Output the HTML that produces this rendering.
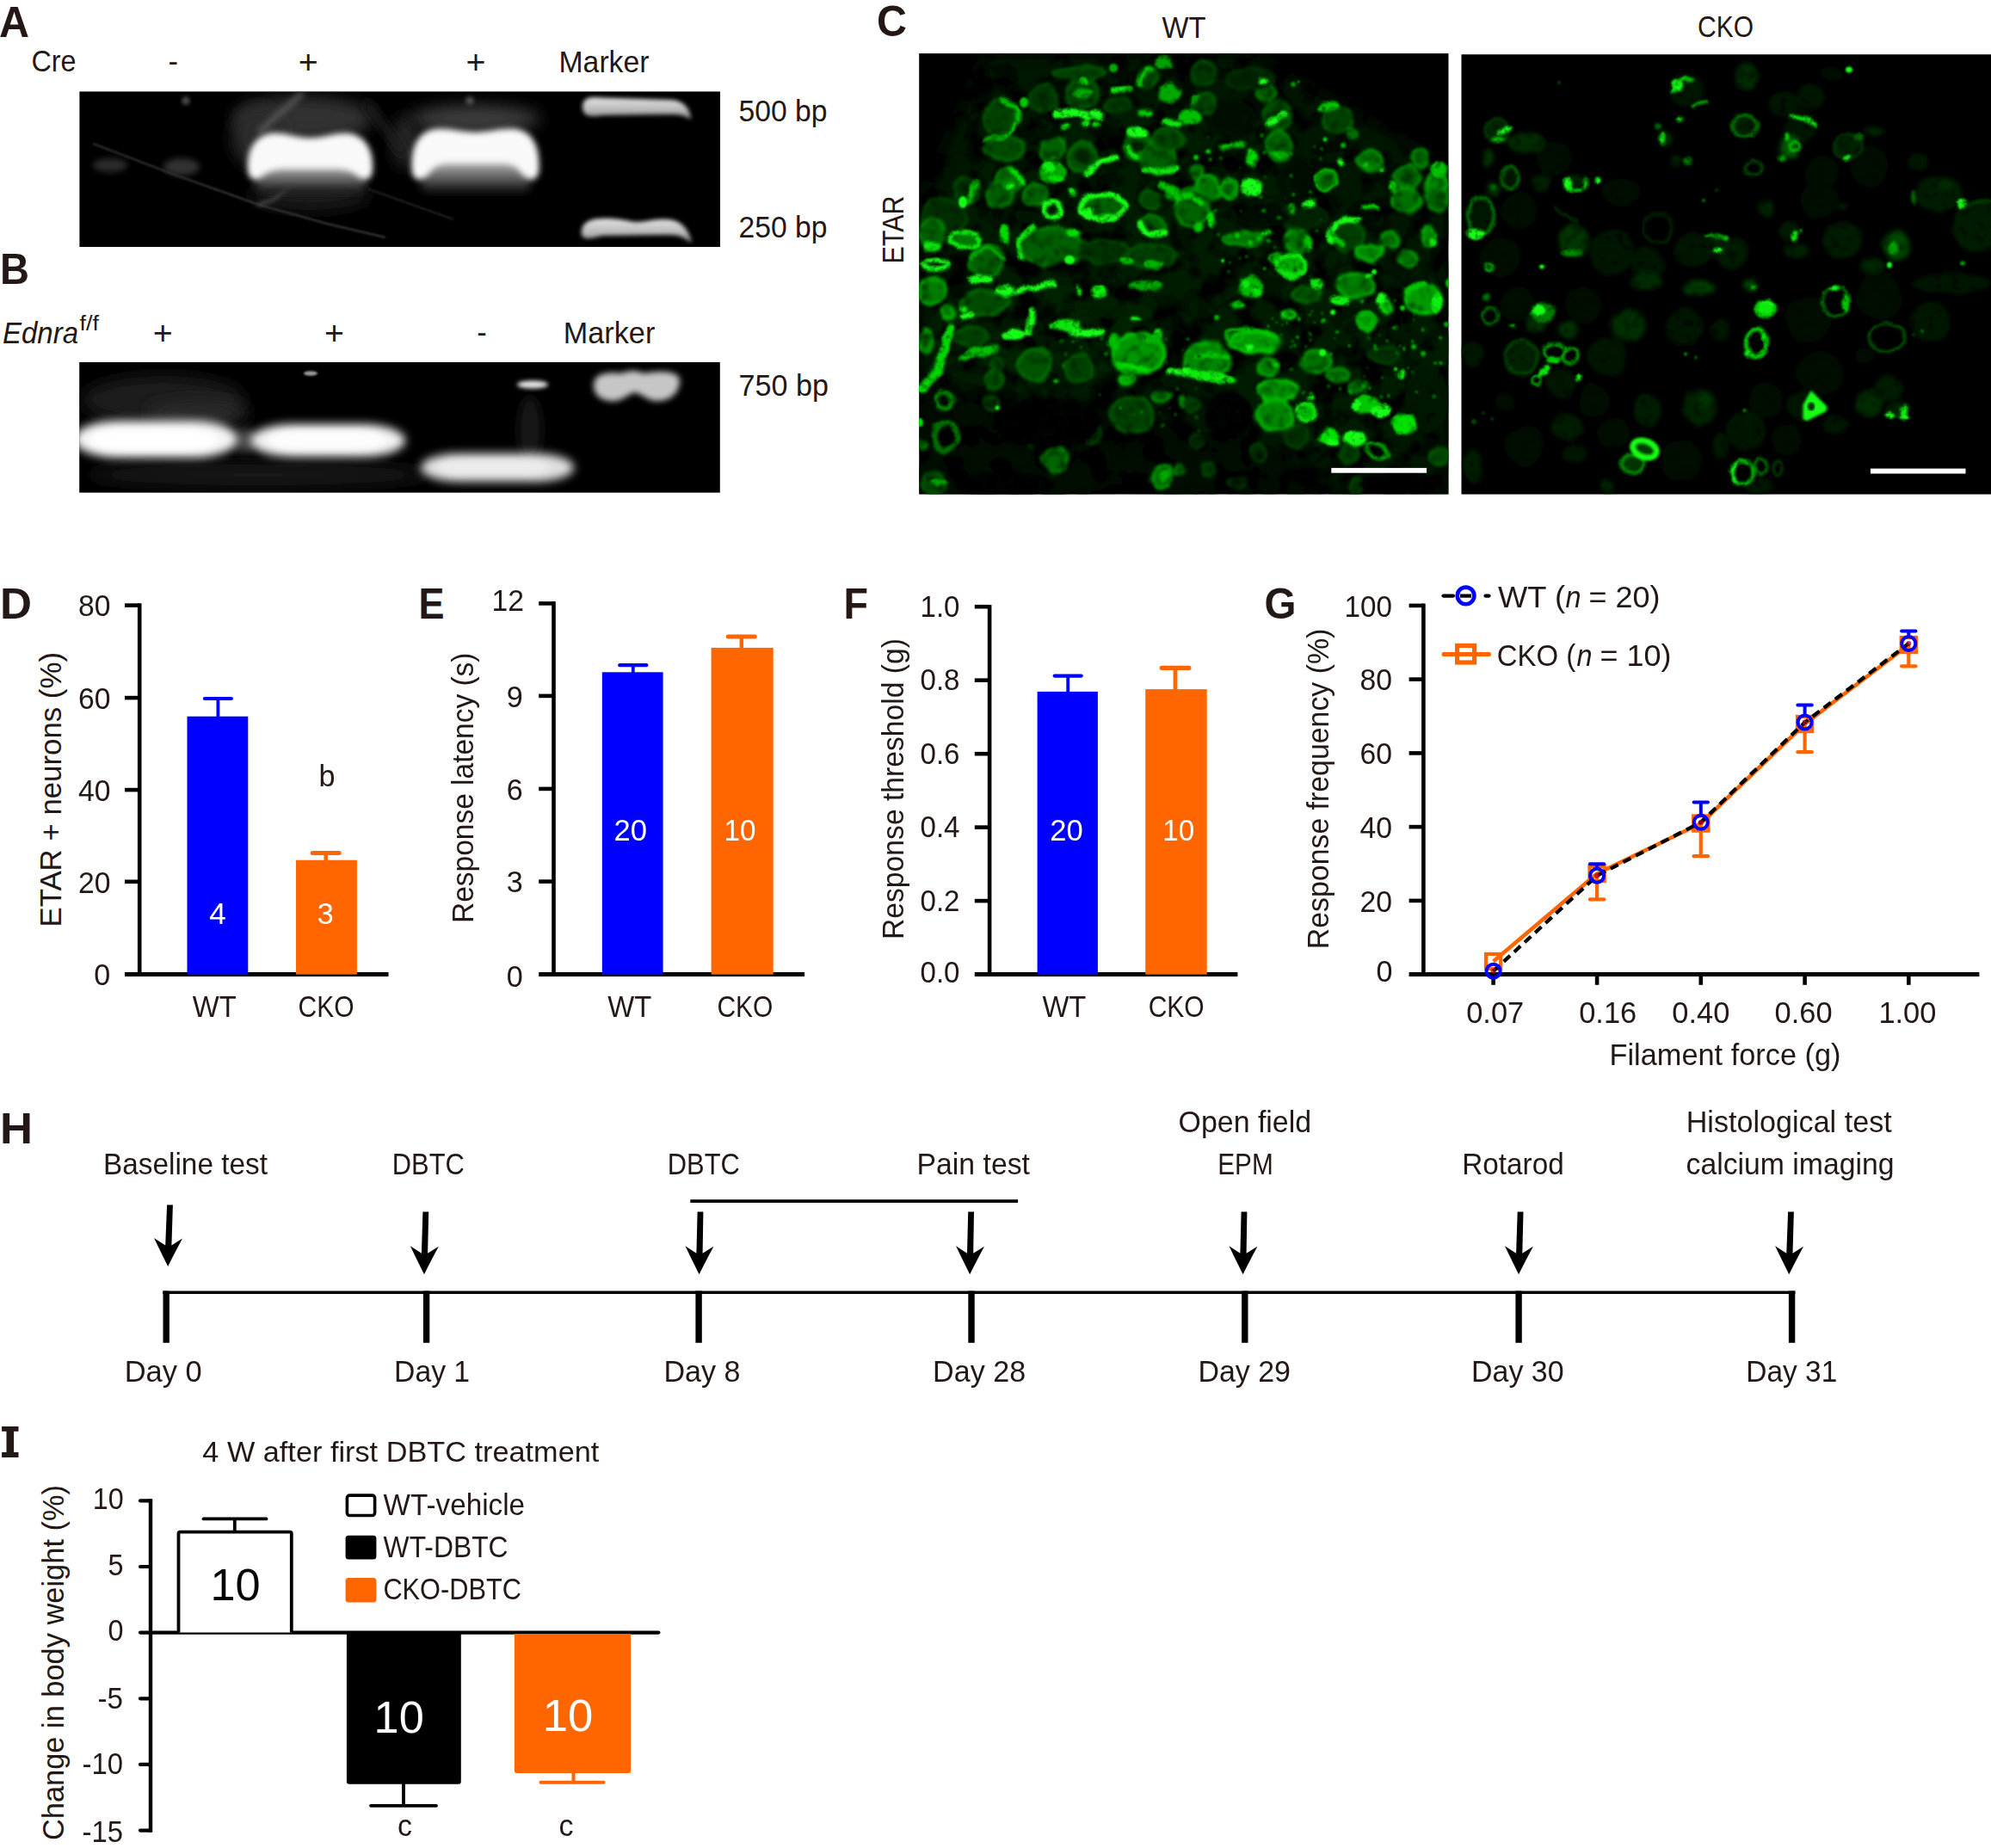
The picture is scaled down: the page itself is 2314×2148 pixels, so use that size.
<!DOCTYPE html>
<html><head><meta charset="utf-8"><title>Figure</title>
<style>
html,body{margin:0;padding:0;background:#fff;}
svg{display:block;}
text{font-family:"Liberation Sans",sans-serif;}
</style></head><body>
<svg width="2314" height="2148" viewBox="0 0 2314 2148">
<rect width="2314" height="2148" fill="#fff"/>
<g fill="#231815">
<text x="-1.0" y="42.5" font-size="50" textLength="35.0" lengthAdjust="spacingAndGlyphs" font-weight="bold">A</text>
<text x="0.0" y="330.0" font-size="50" textLength="34.0" lengthAdjust="spacingAndGlyphs" font-weight="bold">B</text>
<text x="1019.0" y="42.3" font-size="50" textLength="35.0" lengthAdjust="spacingAndGlyphs" font-weight="bold">C</text>
<text x="0.0" y="719.0" font-size="50" textLength="37.0" lengthAdjust="spacingAndGlyphs" font-weight="bold">D</text>
<text x="486.5" y="719.0" font-size="50" textLength="30.0" lengthAdjust="spacingAndGlyphs" font-weight="bold">E</text>
<text x="980.5" y="719.0" font-size="50" textLength="28.5" lengthAdjust="spacingAndGlyphs" font-weight="bold">F</text>
<text x="1469.5" y="719.0" font-size="50" textLength="37.0" lengthAdjust="spacingAndGlyphs" font-weight="bold">G</text>
<text x="0.0" y="1328.8" font-size="50" textLength="38.0" lengthAdjust="spacingAndGlyphs" font-weight="bold">H</text>
<path d="M2.1,1658 H21.5 V1663.8 H16.1 V1688.1 H21.5 V1693.9 H2.1 V1688.1 H7.5 V1663.8 H2.1 Z"/>
<text x="36.5" y="83.3" font-size="35" textLength="52.0" lengthAdjust="spacingAndGlyphs">Cre</text>
<text x="195.6" y="83.3" font-size="35" textLength="11.5" lengthAdjust="spacingAndGlyphs">-</text>
<text x="346.8" y="85.2" font-size="38" textLength="23.0" lengthAdjust="spacingAndGlyphs">+</text>
<text x="541.5" y="85.2" font-size="38" textLength="23.0" lengthAdjust="spacingAndGlyphs">+</text>
<text x="649.5" y="83.8" font-size="35" textLength="105.0" lengthAdjust="spacingAndGlyphs">Marker</text>
<text x="858.5" y="140.6" font-size="35" textLength="103.0" lengthAdjust="spacingAndGlyphs">500 bp</text>
<text x="858.5" y="276.2" font-size="35" textLength="103.0" lengthAdjust="spacingAndGlyphs">250 bp</text>
<text x="3.0" y="398.5" font-size="35" textLength="88.0" lengthAdjust="spacingAndGlyphs" font-style="italic">Ednra</text>
<text x="92.5" y="384.2" font-size="23" textLength="22.5" lengthAdjust="spacingAndGlyphs">f/f</text>
<text x="177.8" y="400.2" font-size="38" textLength="23.0" lengthAdjust="spacingAndGlyphs">+</text>
<text x="376.9" y="400.2" font-size="38" textLength="23.0" lengthAdjust="spacingAndGlyphs">+</text>
<text x="554.3" y="398.2" font-size="35" textLength="11.5" lengthAdjust="spacingAndGlyphs">-</text>
<text x="654.8" y="399.0" font-size="35" textLength="106.5" lengthAdjust="spacingAndGlyphs">Marker</text>
<text x="858.5" y="460.0" font-size="35" textLength="104.5" lengthAdjust="spacingAndGlyphs">750 bp</text>
<text x="1350.6" y="44.0" font-size="35" textLength="51.0" lengthAdjust="spacingAndGlyphs">WT</text>
<text x="1973.0" y="43.0" font-size="35" textLength="65.0" lengthAdjust="spacingAndGlyphs">CKO</text>
<text x="1050.0" y="306.5" font-size="35" textLength="79.0" lengthAdjust="spacingAndGlyphs" transform="rotate(-90 1050.0 306.5)">ETAR</text>
<defs>
<filter id="b1" x="-20%" y="-50%" width="140%" height="200%"><feGaussianBlur stdDeviation="1.2"/></filter>
<filter id="b2" x="-20%" y="-50%" width="140%" height="200%"><feGaussianBlur stdDeviation="2.4"/></filter>
<filter id="b3" x="-20%" y="-50%" width="140%" height="200%"><feGaussianBlur stdDeviation="3.6"/></filter>
<filter id="b5" x="-30%" y="-80%" width="160%" height="260%"><feGaussianBlur stdDeviation="5.5"/></filter>
<filter id="b8" x="-30%" y="-80%" width="160%" height="260%"><feGaussianBlur stdDeviation="9"/></filter>
<clipPath id="cgA"><rect x="92.4" y="106.4" width="744.6" height="180.6"/></clipPath>
<clipPath id="cgB"><rect x="92.2" y="421" width="744.6" height="151.6"/></clipPath>
<linearGradient id="bandA" x1="0" y1="0" x2="0" y2="1">
<stop offset="0" stop-color="#fafafa"/><stop offset="0.5" stop-color="#f8f8f8"/><stop offset="0.62" stop-color="#dcdcdc"/><stop offset="0.78" stop-color="#a8a8a8"/><stop offset="0.9" stop-color="#5a5a5a"/><stop offset="1" stop-color="#1a1a1a"/></linearGradient>
<linearGradient id="mk" x1="0" y1="0" x2="0" y2="1">
<stop offset="0" stop-color="#e4e4e4"/><stop offset="0.5" stop-color="#bdbdbd"/><stop offset="1" stop-color="#8c8c8c"/></linearGradient>
</defs>
<rect x="92.4" y="106.4" width="744.6" height="180.6" fill="#000"/>
<g clip-path="url(#cgA)">
<ellipse cx="352" cy="138" rx="82" ry="26" fill="#333" filter="url(#b8)"/><ellipse cx="300" cy="160" rx="30" ry="36" fill="#2a2a2a" filter="url(#b8)"/>
<ellipse cx="552" cy="138" rx="76" ry="16" fill="#3c3c3c" filter="url(#b8)"/><ellipse cx="470" cy="165" rx="14" ry="30" fill="#2a2a2a" filter="url(#b8)"/>
<ellipse cx="360" cy="226" rx="70" ry="18" fill="#1c1c1c" filter="url(#b8)"/>
<path d="M352,108 L300,154" stroke="#5a5a5a" stroke-width="6" fill="none" filter="url(#b3)"/>
<path d="M425,118 L470,180" stroke="#1a1a1a" stroke-width="10" fill="none" filter="url(#b5)"/>
<path d="M108,167 L200,202 L301,238 L380,260 L448,276" stroke="#333" stroke-width="2.4" fill="none" filter="url(#b1)"/>
<path d="M429,220 L527,255" stroke="#242424" stroke-width="2.2" fill="none" filter="url(#b1)"/>
<path d="M340,213 L318,232 L300,238" stroke="#5a5a5a" stroke-width="3" fill="none" filter="url(#b2)"/>
<ellipse cx="128" cy="192" rx="20" ry="8" fill="#2b2b2b" filter="url(#b3)"/>
<ellipse cx="211" cy="194" rx="21" ry="10" fill="#333" filter="url(#b3)"/>
<circle cx="216" cy="117" r="4.5" fill="#555" filter="url(#b2)"/>
<circle cx="546" cy="117" r="4.5" fill="#5a5a5a" filter="url(#b2)"/>
<linearGradient id="shadeA" x1="0" y1="0" x2="0" y2="1"><stop offset="0" stop-color="#d0d0d0"/><stop offset="0.35" stop-color="#9a9a9a"/><stop offset="0.7" stop-color="#4a4a4a"/><stop offset="1" stop-color="#0a0a0a"/></linearGradient>
<rect x="298" y="184" width="126" height="40" rx="8" fill="url(#shadeA)" filter="url(#b5)"/>
<rect x="490" y="178" width="126" height="46" rx="8" fill="url(#shadeA)" filter="url(#b5)"/>
<path d="M314.0,155.0 C331.5,153.0 343.1,160.0 360.5,160.0 C377.9,160.0 389.5,153.0 407.0,155.0 C427.0,159.0 434.0,177.0 433.0,196.0 C433.0,211.0 421.0,212.0 413.0,202.0 C407.0,198.0 399.0,196.0 389.0,196.0 L332.0,196.0 C322.0,196.0 314.0,198.0 308.0,202.0 C300.0,212.0 288.0,211.0 288.0,196.0 C287.0,177.0 294.0,159.0 314.0,155.0 Z" fill="#f9f9f9" filter="url(#b3)"/>
<path d="M504.5,150.0 C522.9,148.0 534.7,153.5 552.5,153.5 C570.3,153.5 582.1,148.0 600.5,150.0 C620.5,154.0 627.5,172.0 626.5,196.0 C626.5,211.0 614.5,212.0 606.5,202.0 C600.5,192.0 592.5,190.0 582.5,190.0 L522.5,190.0 C512.5,190.0 504.5,192.0 498.5,202.0 C490.5,212.0 478.5,211.0 478.5,196.0 C477.5,172.0 484.5,154.0 504.5,150.0 Z" fill="#f9f9f9" filter="url(#b3)"/>
<path d="M677,124 C677,112 690,112.5 700,113.5 L780,116 C796,117 803,128 803,139 C796,134 790,133 780,133 L700,134 C686,136 677,136 677,124 Z" fill="url(#mk)" filter="url(#b2)"/>
<path d="M676,274 C674,260 684,254 700,254 C720,253 730,258 740,258 C752,258 760,254 776,255 C794,256 802,270 804,283 C796,276 790,273 776,273 L700,274 C690,276 682,280 676,274 Z" fill="url(#mk)" filter="url(#b2)"/>
</g>
<rect x="92.2" y="421.0" width="744.6" height="151.6" fill="#000"/>
<g clip-path="url(#cgB)">
<ellipse cx="190" cy="465" rx="95" ry="28" fill="#1e1e1e" filter="url(#b8)"/>
<ellipse cx="230" cy="480" rx="60" ry="14" fill="#2a2a2a" filter="url(#b8)"/>
<ellipse cx="300" cy="552" rx="200" ry="12" fill="#1d1d1d" filter="url(#b8)"/>
<ellipse cx="285" cy="512" rx="14" ry="14" fill="#444" filter="url(#b5)"/>
<ellipse cx="616" cy="500" rx="14" ry="40" fill="#161616" filter="url(#b5)"/>
<rect x="86" y="489" width="190" height="43" rx="52" ry="21" fill="#f4f4f4" filter="url(#b5)"/>
<rect x="104" y="499" width="150" height="24" rx="40" ry="12" fill="#fff" filter="url(#b3)"/>
<rect x="291" y="493" width="180" height="38" rx="50" ry="19" fill="#f2f2f2" filter="url(#b5)"/>
<rect x="312" y="501" width="136" height="21" rx="36" ry="10" fill="#fdfdfd" filter="url(#b3)"/>
<rect x="489" y="527" width="178" height="33" rx="46" ry="16" fill="#e0e0e0" filter="url(#b5)"/>
<rect x="508" y="535" width="130" height="16" rx="34" ry="8" fill="#ececec" filter="url(#b3)"/>
<path d="M690,448 C690,434 706,432 722,434 C732,430 740,430 748,434 C764,431 790,430 790,442 C790,456 780,466 764,466 C752,466 746,458 738,456 C730,458 722,468 708,466 C696,464 690,458 690,448 Z" fill="#c6c6c6" filter="url(#b3)"/>
<ellipse cx="619" cy="447" rx="18" ry="4.5" fill="#e8e8e8" filter="url(#b2)"/>
<ellipse cx="361" cy="434" rx="8" ry="2.8" fill="#9a9a9a" filter="url(#b1)"/>
</g>
<defs>
<filter id="g1" x="-5%" y="-5%" width="110%" height="110%"><feGaussianBlur stdDeviation="0.9"/></filter>
<filter id="g2" x="-5%" y="-5%" width="110%" height="110%"><feGaussianBlur stdDeviation="1.7"/></filter>
<filter id="g3" x="-5%" y="-5%" width="110%" height="110%"><feGaussianBlur stdDeviation="2.8"/></filter>
<filter id="g12" x="-10%" y="-10%" width="120%" height="120%"><feGaussianBlur stdDeviation="13"/></filter>
<filter id="wbase" x="0" y="0" width="100%" height="100%" filterUnits="objectBoundingBox">
 <feGaussianBlur in="SourceGraphic" stdDeviation="11" result="b"/>
 <feTurbulence type="fractalNoise" baseFrequency="0.035" numOctaves="3" seed="11" result="n"/>
 <feColorMatrix in="n" type="matrix" values="0 0 0 0 0  0 0 0 0 0  0 0 0 0 0  0 3.4 0 0 -1.05" result="a"/>
 <feComposite in="b" in2="a" operator="in"/>
</filter>
<filter id="wdim" x="-3%" y="-3%" width="106%" height="106%">
 <feGaussianBlur in="SourceGraphic" stdDeviation="1.6" result="b"/>
 <feTurbulence type="fractalNoise" baseFrequency="0.045" numOctaves="2" seed="3" result="n"/>
 <feDisplacementMap in="b" in2="n" scale="9" xChannelSelector="R" yChannelSelector="G" result="d"/>
 <feTurbulence type="fractalNoise" baseFrequency="0.08" numOctaves="2" seed="8" result="n2"/>
 <feColorMatrix in="n2" type="matrix" values="0 0 0 0 0  0 0 0 0 0  0 0 0 0 0  0 0 -1.5 0 1.7" result="a"/>
 <feComposite in="d" in2="a" operator="in" result="c"/>
 <feGaussianBlur in="c" stdDeviation="0.8"/>
</filter>
<filter id="wbri" x="-3%" y="-3%" width="106%" height="106%">
 <feGaussianBlur in="SourceGraphic" stdDeviation="1.6" result="b"/>
 <feTurbulence type="fractalNoise" baseFrequency="0.055" numOctaves="2" seed="5" result="n"/>
 <feDisplacementMap in="b" in2="n" scale="8" xChannelSelector="R" yChannelSelector="G" result="d"/>
 <feTurbulence type="fractalNoise" baseFrequency="0.13" numOctaves="2" seed="21" result="n2"/>
 <feColorMatrix in="n2" type="matrix" values="0 0 0 0 0  0 0 0 0 0  0 0 0 0 0  -1.5 0 0 0 1.75" result="a"/>
 <feComposite in="d" in2="a" operator="in" result="c"/>
 <feGaussianBlur in="c" stdDeviation="0.7"/>
</filter>
<filter id="cdimf" x="-3%" y="-3%" width="106%" height="106%">
 <feGaussianBlur in="SourceGraphic" stdDeviation="2.6" result="b"/>
 <feTurbulence type="fractalNoise" baseFrequency="0.035" numOctaves="2" seed="13" result="n"/>
 <feDisplacementMap in="b" in2="n" scale="9" xChannelSelector="R" yChannelSelector="G" result="d"/>
 <feTurbulence type="fractalNoise" baseFrequency="0.1" numOctaves="2" seed="2" result="n2"/>
 <feColorMatrix in="n2" type="matrix" values="0 0 0 0 0  0 0 0 0 0  0 0 0 0 0  0 -1.2 0 0 1.55" result="a"/>
 <feComposite in="d" in2="a" operator="in" result="c"/>
 <feGaussianBlur in="c" stdDeviation="0.8"/>
</filter>
<filter id="cbrif" x="-3%" y="-3%" width="106%" height="106%">
 <feGaussianBlur in="SourceGraphic" stdDeviation="1.4" result="b"/>
 <feTurbulence type="fractalNoise" baseFrequency="0.08" numOctaves="2" seed="7" result="n"/>
 <feDisplacementMap in="b" in2="n" scale="5" xChannelSelector="R" yChannelSelector="G" result="d"/>
 <feTurbulence type="fractalNoise" baseFrequency="0.18" numOctaves="2" seed="9" result="n2"/>
 <feColorMatrix in="n2" type="matrix" values="0 0 0 0 0  0 0 0 0 0  0 0 0 0 0  -1.3 0 0 0 1.65" result="a"/>
 <feComposite in="d" in2="a" operator="in" result="c"/>
 <feGaussianBlur in="c" stdDeviation="0.6"/>
</filter>
<clipPath id="cWT"><rect x="0" y="0" width="615.6" height="512.6"/></clipPath>
<clipPath id="cCK"><rect x="0.5" y="1.2" width="615.5" height="511.5"/></clipPath>
</defs>
<g transform="translate(1068.1,62.1)"><g clip-path="url(#cWT)">
<rect x="0" y="0" width="615.6" height="512.6" fill="#000"/>
<g filter="url(#wbase)"><path d="M78,0 L388,0 L616,132 L616,513 L330,513 L300,440 L200,420 L60,400 L0,420 L0,175 Z" fill="rgb(0,22,0)"/><ellipse cx="250.0" cy="200.0" rx="200.0" ry="140.0" fill="rgb(0,30,0)"/><ellipse cx="480.0" cy="330.0" rx="150.0" ry="130.0" fill="rgb(0,28,0)"/><ellipse cx="150.0" cy="330.0" rx="140.0" ry="60.0" fill="rgb(0,34,0)"/><ellipse cx="110.0" cy="470.0" rx="130.0" ry="60.0" fill="rgb(0,10,0)"/><ellipse cx="330.0" cy="480.0" rx="110.0" ry="40.0" fill="rgb(0,8,0)"/></g>
<g filter="url(#wdim)"><ellipse cx="93.0" cy="74.0" rx="20.0" ry="20.0" fill="rgb(0,65,0)"/><ellipse cx="93.0" cy="74.0" rx="18.8" ry="18.8" fill="none" stroke="rgb(0,91,0)" stroke-width="3.5"/><ellipse cx="144.0" cy="53.0" rx="17.0" ry="16.0" fill="rgb(0,54,0)"/><ellipse cx="144.0" cy="53.0" rx="15.8" ry="14.8" fill="none" stroke="rgb(0,75,0)" stroke-width="3.5"/><ellipse cx="190.0" cy="46.0" rx="20.0" ry="18.0" fill="rgb(0,65,0)"/><ellipse cx="190.0" cy="46.0" rx="18.8" ry="16.8" fill="none" stroke="rgb(0,91,0)" stroke-width="3.5"/><ellipse cx="186.0" cy="23.0" rx="32.0" ry="9.0" fill="rgb(0,62,0)"/><ellipse cx="186.0" cy="23.0" rx="30.8" ry="7.8" fill="none" stroke="rgb(0,87,0)" stroke-width="3.5"/><ellipse cx="254.0" cy="108.0" rx="17.0" ry="16.0" fill="rgb(0,84,0)"/><ellipse cx="254.0" cy="108.0" rx="15.8" ry="14.8" fill="none" stroke="rgb(0,118,0)" stroke-width="3.5"/><ellipse cx="278.0" cy="122.0" rx="22.0" ry="19.0" fill="rgb(0,95,0)"/><ellipse cx="278.0" cy="122.0" rx="20.8" ry="17.8" fill="none" stroke="rgb(0,134,0)" stroke-width="3.5"/><ellipse cx="190.0" cy="122.0" rx="19.0" ry="18.0" fill="rgb(0,79,0)"/><ellipse cx="190.0" cy="122.0" rx="17.8" ry="16.8" fill="none" stroke="rgb(0,110,0)" stroke-width="3.5"/><ellipse cx="155.0" cy="111.0" rx="14.0" ry="13.0" fill="rgb(0,95,0)"/><ellipse cx="155.0" cy="111.0" rx="12.8" ry="11.8" fill="none" stroke="rgb(0,134,0)" stroke-width="3.5"/><ellipse cx="105.0" cy="147.0" rx="15.0" ry="15.0" fill="rgb(0,90,0)"/><ellipse cx="105.0" cy="147.0" rx="13.8" ry="13.8" fill="none" stroke="rgb(0,126,0)" stroke-width="3.5"/><ellipse cx="99.0" cy="111.0" rx="24.0" ry="16.0" fill="rgb(0,76,0)"/><ellipse cx="99.0" cy="111.0" rx="22.8" ry="14.8" fill="none" stroke="rgb(0,107,0)" stroke-width="3.5"/><ellipse cx="93.0" cy="164.0" rx="17.0" ry="16.0" fill="rgb(0,90,0)"/><ellipse cx="93.0" cy="164.0" rx="15.8" ry="14.8" fill="none" stroke="rgb(0,126,0)" stroke-width="3.5"/><ellipse cx="55.0" cy="160.0" rx="16.0" ry="15.0" fill="rgb(0,50,0)"/><ellipse cx="55.0" cy="160.0" rx="14.8" ry="13.8" fill="none" stroke="rgb(0,71,0)" stroke-width="3.5"/><ellipse cx="135.0" cy="164.0" rx="14.0" ry="13.0" fill="rgb(0,95,0)"/><ellipse cx="135.0" cy="164.0" rx="12.8" ry="11.8" fill="none" stroke="rgb(0,134,0)" stroke-width="3.5"/><ellipse cx="269.0" cy="170.0" rx="14.0" ry="13.0" fill="rgb(0,67,0)"/><ellipse cx="269.0" cy="170.0" rx="12.8" ry="11.8" fill="none" stroke="rgb(0,94,0)" stroke-width="3.5"/><ellipse cx="28.0" cy="193.0" rx="26.0" ry="24.0" fill="rgb(0,47,0)"/><ellipse cx="28.0" cy="193.0" rx="24.8" ry="22.8" fill="none" stroke="rgb(0,66,0)" stroke-width="3.5"/><ellipse cx="15.0" cy="210.0" rx="15.0" ry="18.0" fill="rgb(0,93,0)"/><ellipse cx="15.0" cy="210.0" rx="13.8" ry="16.8" fill="none" stroke="rgb(0,131,0)" stroke-width="3.5"/><ellipse cx="155.0" cy="224.0" rx="40.0" ry="23.0" fill="rgb(0,95,0)"/><ellipse cx="155.0" cy="224.0" rx="38.8" ry="21.8" fill="none" stroke="rgb(0,134,0)" stroke-width="3.5"/><ellipse cx="79.0" cy="241.0" rx="21.0" ry="19.0" fill="rgb(0,93,0)"/><ellipse cx="79.0" cy="241.0" rx="19.8" ry="17.8" fill="none" stroke="rgb(0,131,0)" stroke-width="3.5"/><ellipse cx="213.0" cy="178.0" rx="26.0" ry="14.0" fill="rgb(0,100,0)"/><ellipse cx="213.0" cy="178.0" rx="24.8" ry="12.8" fill="none" stroke="rgb(0,140,0)" stroke-width="3.5"/><ellipse cx="272.0" cy="200.0" rx="16.0" ry="12.0" fill="rgb(0,90,0)"/><ellipse cx="272.0" cy="200.0" rx="14.8" ry="10.8" fill="none" stroke="rgb(0,126,0)" stroke-width="3.5"/><ellipse cx="266.0" cy="28.0" rx="14.0" ry="13.0" fill="rgb(0,67,0)"/><ellipse cx="266.0" cy="28.0" rx="12.8" ry="11.8" fill="none" stroke="rgb(0,94,0)" stroke-width="3.5"/><ellipse cx="230.0" cy="60.0" rx="16.0" ry="10.0" fill="rgb(0,50,0)"/><ellipse cx="230.0" cy="60.0" rx="14.8" ry="8.8" fill="none" stroke="rgb(0,71,0)" stroke-width="3.5"/><ellipse cx="290.0" cy="100.0" rx="20.0" ry="14.0" fill="rgb(0,67,0)"/><ellipse cx="290.0" cy="100.0" rx="18.8" ry="12.8" fill="none" stroke="rgb(0,94,0)" stroke-width="3.5"/><ellipse cx="215.0" cy="230.0" rx="30.0" ry="14.0" fill="rgb(0,50,0)"/><ellipse cx="215.0" cy="230.0" rx="28.8" ry="12.8" fill="none" stroke="rgb(0,71,0)" stroke-width="3.5"/><ellipse cx="270.0" cy="235.0" rx="30.0" ry="14.0" fill="rgb(0,62,0)"/><ellipse cx="270.0" cy="235.0" rx="28.8" ry="12.8" fill="none" stroke="rgb(0,87,0)" stroke-width="3.5"/><ellipse cx="254.0" cy="108.0" rx="9.0" ry="8.0" fill="rgb(0,35,0)"/><ellipse cx="190.0" cy="120.0" rx="10.0" ry="9.0" fill="rgb(0,40,0)"/><ellipse cx="170.0" cy="248.0" rx="22.0" ry="5.0" fill="rgb(0,5,0)"/><ellipse cx="140.0" cy="95.0" rx="22.0" ry="8.0" fill="rgb(0,8,0)"/><ellipse cx="225.0" cy="148.0" rx="16.0" ry="6.0" fill="rgb(0,10,0)"/><ellipse cx="125.0" cy="190.0" rx="14.0" ry="7.0" fill="rgb(0,25,0)"/><ellipse cx="331.0" cy="23.0" rx="14.0" ry="13.0" fill="rgb(0,54,0)"/><ellipse cx="331.0" cy="23.0" rx="12.8" ry="11.8" fill="none" stroke="rgb(0,75,0)" stroke-width="3.5"/><ellipse cx="331.0" cy="59.0" rx="15.0" ry="14.0" fill="rgb(0,65,0)"/><ellipse cx="331.0" cy="59.0" rx="13.8" ry="12.8" fill="none" stroke="rgb(0,91,0)" stroke-width="3.5"/><ellipse cx="404.0" cy="45.0" rx="11.0" ry="11.0" fill="rgb(0,88,0)"/><ellipse cx="404.0" cy="45.0" rx="9.8" ry="9.8" fill="none" stroke="rgb(0,123,0)" stroke-width="3.5"/><ellipse cx="416.0" cy="73.0" rx="18.0" ry="17.0" fill="rgb(0,65,0)"/><ellipse cx="416.0" cy="73.0" rx="16.8" ry="15.8" fill="none" stroke="rgb(0,91,0)" stroke-width="3.5"/><ellipse cx="486.0" cy="77.0" rx="18.0" ry="16.0" fill="rgb(0,65,0)"/><ellipse cx="486.0" cy="77.0" rx="16.8" ry="14.8" fill="none" stroke="rgb(0,91,0)" stroke-width="3.5"/><ellipse cx="419.0" cy="107.0" rx="16.0" ry="18.0" fill="rgb(0,95,0)"/><ellipse cx="419.0" cy="107.0" rx="14.8" ry="16.8" fill="none" stroke="rgb(0,134,0)" stroke-width="3.5"/><ellipse cx="323.0" cy="138.0" rx="9.0" ry="9.0" fill="rgb(0,100,0)"/><ellipse cx="323.0" cy="138.0" rx="7.8" ry="7.8" fill="none" stroke="rgb(0,140,0)" stroke-width="3.5"/><ellipse cx="336.0" cy="156.0" rx="15.0" ry="14.0" fill="rgb(0,120,0)"/><ellipse cx="336.0" cy="156.0" rx="13.8" ry="12.8" fill="none" stroke="rgb(0,169,0)" stroke-width="3.5"/><ellipse cx="360.0" cy="158.0" rx="11.0" ry="11.0" fill="rgb(0,105,0)"/><ellipse cx="360.0" cy="158.0" rx="9.8" ry="9.8" fill="none" stroke="rgb(0,147,0)" stroke-width="3.5"/><ellipse cx="317.0" cy="179.0" rx="20.0" ry="24.0" fill="rgb(0,100,0)"/><ellipse cx="317.0" cy="179.0" rx="18.8" ry="22.8" fill="none" stroke="rgb(0,140,0)" stroke-width="3.5"/><ellipse cx="473.0" cy="148.0" rx="11.5" ry="11.5" fill="rgb(0,100,0)"/><ellipse cx="473.0" cy="148.0" rx="10.3" ry="10.3" fill="none" stroke="rgb(0,140,0)" stroke-width="3.5"/><ellipse cx="524.0" cy="124.0" rx="15.0" ry="12.0" fill="rgb(0,110,0)"/><ellipse cx="524.0" cy="124.0" rx="13.8" ry="10.8" fill="none" stroke="rgb(0,154,0)" stroke-width="3.5"/><ellipse cx="583.0" cy="121.0" rx="11.0" ry="11.0" fill="rgb(0,100,0)"/><ellipse cx="583.0" cy="121.0" rx="9.8" ry="9.8" fill="none" stroke="rgb(0,140,0)" stroke-width="3.5"/><ellipse cx="602.0" cy="152.0" rx="14.0" ry="14.0" fill="rgb(0,131,0)"/><ellipse cx="602.0" cy="152.0" rx="12.8" ry="12.8" fill="none" stroke="rgb(0,183,0)" stroke-width="3.5"/><ellipse cx="568.0" cy="144.0" rx="15.0" ry="14.0" fill="rgb(0,95,0)"/><ellipse cx="568.0" cy="144.0" rx="13.8" ry="12.8" fill="none" stroke="rgb(0,134,0)" stroke-width="3.5"/><ellipse cx="566.0" cy="170.0" rx="17.0" ry="16.0" fill="rgb(0,113,0)"/><ellipse cx="566.0" cy="170.0" rx="15.8" ry="14.8" fill="none" stroke="rgb(0,158,0)" stroke-width="3.5"/><ellipse cx="602.0" cy="170.0" rx="15.0" ry="14.0" fill="rgb(0,95,0)"/><ellipse cx="602.0" cy="170.0" rx="13.8" ry="12.8" fill="none" stroke="rgb(0,134,0)" stroke-width="3.5"/><ellipse cx="439.0" cy="217.0" rx="15.0" ry="15.0" fill="rgb(0,120,0)"/><ellipse cx="439.0" cy="217.0" rx="13.8" ry="13.8" fill="none" stroke="rgb(0,169,0)" stroke-width="3.5"/><ellipse cx="524.0" cy="232.0" rx="16.0" ry="11.0" fill="rgb(0,134,0)"/><ellipse cx="524.0" cy="232.0" rx="14.8" ry="9.8" fill="none" stroke="rgb(0,188,0)" stroke-width="3.5"/><ellipse cx="548.0" cy="217.0" rx="12.0" ry="11.0" fill="rgb(0,113,0)"/><ellipse cx="548.0" cy="217.0" rx="10.8" ry="9.8" fill="none" stroke="rgb(0,158,0)" stroke-width="3.5"/><ellipse cx="592.0" cy="213.0" rx="10.0" ry="13.0" fill="rgb(0,131,0)"/><ellipse cx="592.0" cy="213.0" rx="8.8" ry="11.8" fill="none" stroke="rgb(0,183,0)" stroke-width="3.5"/><ellipse cx="568.0" cy="238.0" rx="12.0" ry="11.0" fill="rgb(0,113,0)"/><ellipse cx="568.0" cy="238.0" rx="10.8" ry="9.8" fill="none" stroke="rgb(0,158,0)" stroke-width="3.5"/><ellipse cx="497.0" cy="212.0" rx="22.0" ry="18.0" fill="rgb(0,62,0)"/><ellipse cx="497.0" cy="212.0" rx="20.8" ry="16.8" fill="none" stroke="rgb(0,87,0)" stroke-width="3.5"/><ellipse cx="385.0" cy="30.0" rx="30.0" ry="12.0" fill="rgb(0,36,0)"/><ellipse cx="385.0" cy="30.0" rx="28.8" ry="10.8" fill="none" stroke="rgb(0,50,0)" stroke-width="3.5"/><ellipse cx="377.0" cy="216.0" rx="24.0" ry="9.0" fill="rgb(0,115,0)"/><ellipse cx="377.0" cy="216.0" rx="22.8" ry="7.8" fill="none" stroke="rgb(0,161,0)" stroke-width="3.5"/><ellipse cx="445.0" cy="190.0" rx="30.0" ry="14.0" fill="rgb(0,33,0)"/><ellipse cx="445.0" cy="190.0" rx="28.8" ry="12.8" fill="none" stroke="rgb(0,47,0)" stroke-width="3.5"/><ellipse cx="440.0" cy="150.0" rx="22.0" ry="30.0" fill="rgb(0,8,0)"/><ellipse cx="365.0" cy="75.0" rx="25.0" ry="20.0" fill="rgb(0,10,0)"/><ellipse cx="400.0" cy="190.0" rx="30.0" ry="12.0" fill="rgb(0,12,0)"/><ellipse cx="15.0" cy="276.0" rx="17.0" ry="16.0" fill="rgb(0,123,0)"/><ellipse cx="15.0" cy="276.0" rx="15.8" ry="14.8" fill="none" stroke="rgb(0,173,0)" stroke-width="3.5"/><ellipse cx="77.0" cy="290.0" rx="30.0" ry="14.0" fill="rgb(0,76,0)"/><ellipse cx="77.0" cy="290.0" rx="28.8" ry="12.8" fill="none" stroke="rgb(0,107,0)" stroke-width="3.5"/><ellipse cx="34.0" cy="302.0" rx="9.0" ry="8.0" fill="rgb(0,131,0)"/><ellipse cx="34.0" cy="302.0" rx="7.8" ry="6.8" fill="none" stroke="rgb(0,183,0)" stroke-width="3.5"/><ellipse cx="8.0" cy="333.0" rx="8.0" ry="16.0" fill="rgb(0,113,0)"/><ellipse cx="8.0" cy="333.0" rx="6.8" ry="14.8" fill="none" stroke="rgb(0,158,0)" stroke-width="3.5"/><ellipse cx="135.0" cy="362.0" rx="20.0" ry="19.0" fill="rgb(0,83,0)"/><ellipse cx="135.0" cy="362.0" rx="18.8" ry="17.8" fill="none" stroke="rgb(0,117,0)" stroke-width="3.5"/><ellipse cx="186.0" cy="367.0" rx="18.0" ry="17.0" fill="rgb(0,65,0)"/><ellipse cx="186.0" cy="367.0" rx="16.8" ry="15.8" fill="none" stroke="rgb(0,91,0)" stroke-width="3.5"/><ellipse cx="91.0" cy="361.0" rx="8.0" ry="8.0" fill="rgb(0,62,0)"/><ellipse cx="91.0" cy="361.0" rx="6.8" ry="6.8" fill="none" stroke="rgb(0,87,0)" stroke-width="3.5"/><ellipse cx="87.0" cy="380.0" rx="11.0" ry="11.0" fill="rgb(0,67,0)"/><ellipse cx="87.0" cy="380.0" rx="9.8" ry="9.8" fill="none" stroke="rgb(0,94,0)" stroke-width="3.5"/><ellipse cx="84.0" cy="406.0" rx="9.0" ry="9.0" fill="rgb(0,54,0)"/><ellipse cx="84.0" cy="406.0" rx="7.8" ry="7.8" fill="none" stroke="rgb(0,75,0)" stroke-width="3.5"/><ellipse cx="248.0" cy="420.0" rx="27.0" ry="21.0" fill="rgb(0,65,0)"/><ellipse cx="248.0" cy="420.0" rx="25.8" ry="19.8" fill="none" stroke="rgb(0,91,0)" stroke-width="3.5"/><ellipse cx="282.0" cy="398.0" rx="11.0" ry="7.0" fill="rgb(0,100,0)"/><ellipse cx="282.0" cy="398.0" rx="9.8" ry="5.8" fill="none" stroke="rgb(0,140,0)" stroke-width="3.5"/><ellipse cx="131.0" cy="446.0" rx="11.0" ry="13.0" fill="rgb(0,58,0)"/><ellipse cx="131.0" cy="446.0" rx="9.8" ry="11.8" fill="none" stroke="rgb(0,82,0)" stroke-width="3.5"/><ellipse cx="158.0" cy="472.0" rx="16.0" ry="16.0" fill="rgb(0,98,0)"/><ellipse cx="158.0" cy="472.0" rx="14.8" ry="14.8" fill="none" stroke="rgb(0,137,0)" stroke-width="3.5"/><ellipse cx="201.0" cy="441.0" rx="12.0" ry="12.0" fill="rgb(0,42,0)"/><ellipse cx="201.0" cy="441.0" rx="10.8" ry="10.8" fill="none" stroke="rgb(0,60,0)" stroke-width="3.5"/><ellipse cx="283.0" cy="491.0" rx="13.0" ry="14.0" fill="rgb(0,110,0)"/><ellipse cx="283.0" cy="491.0" rx="11.8" ry="12.8" fill="none" stroke="rgb(0,154,0)" stroke-width="3.5"/><ellipse cx="17.0" cy="500.0" rx="15.0" ry="14.0" fill="rgb(0,65,0)"/><ellipse cx="17.0" cy="500.0" rx="13.8" ry="12.8" fill="none" stroke="rgb(0,91,0)" stroke-width="3.5"/><ellipse cx="255.0" cy="349.0" rx="31.0" ry="25.0" fill="rgb(0,152,0)"/><ellipse cx="255.0" cy="349.0" rx="29.8" ry="23.8" fill="none" stroke="rgb(0,213,0)" stroke-width="3.5"/><ellipse cx="241.0" cy="380.0" rx="9.0" ry="6.0" fill="rgb(0,152,0)"/><ellipse cx="241.0" cy="380.0" rx="7.8" ry="4.8" fill="none" stroke="rgb(0,213,0)" stroke-width="3.5"/><ellipse cx="306.0" cy="406.0" rx="4.0" ry="8.0" fill="rgb(0,110,0)"/><ellipse cx="306.0" cy="406.0" rx="2.8" ry="6.8" fill="none" stroke="rgb(0,154,0)" stroke-width="3.5"/><ellipse cx="303.0" cy="485.0" rx="6.0" ry="6.0" fill="rgb(0,88,0)"/><ellipse cx="303.0" cy="485.0" rx="4.8" ry="4.8" fill="none" stroke="rgb(0,123,0)" stroke-width="3.5"/><ellipse cx="5.0" cy="455.0" rx="5.0" ry="5.0" fill="rgb(0,100,0)"/><ellipse cx="5.0" cy="455.0" rx="3.8" ry="3.8" fill="none" stroke="rgb(0,140,0)" stroke-width="3.5"/><ellipse cx="60.0" cy="330.0" rx="20.0" ry="12.0" fill="rgb(0,62,0)"/><ellipse cx="60.0" cy="330.0" rx="18.8" ry="10.8" fill="none" stroke="rgb(0,87,0)" stroke-width="3.5"/><ellipse cx="170.0" cy="340.0" rx="20.0" ry="8.0" fill="rgb(0,22,0)"/><ellipse cx="215.0" cy="300.0" rx="25.0" ry="10.0" fill="rgb(0,28,0)"/><ellipse cx="150.0" cy="430.0" rx="60.0" ry="30.0" fill="rgb(0,6,0)"/><ellipse cx="100.0" cy="500.0" rx="60.0" ry="14.0" fill="rgb(0,6,0)"/><ellipse cx="60.0" cy="420.0" rx="20.0" ry="14.0" fill="rgb(0,8,0)"/><ellipse cx="506.0" cy="270.0" rx="23.0" ry="15.0" fill="rgb(0,123,0)"/><ellipse cx="506.0" cy="270.0" rx="21.8" ry="13.8" fill="none" stroke="rgb(0,173,0)" stroke-width="3.5"/><ellipse cx="586.0" cy="285.0" rx="22.0" ry="18.0" fill="rgb(0,155,0)"/><ellipse cx="586.0" cy="285.0" rx="20.8" ry="16.8" fill="none" stroke="rgb(1,217,1)" stroke-width="3.5"/><ellipse cx="520.0" cy="311.0" rx="11.0" ry="11.0" fill="rgb(0,155,0)"/><ellipse cx="520.0" cy="311.0" rx="9.8" ry="9.8" fill="none" stroke="rgb(1,217,1)" stroke-width="3.5"/><ellipse cx="390.0" cy="335.0" rx="31.0" ry="14.0" fill="rgb(0,155,0)"/><ellipse cx="390.0" cy="335.0" rx="29.8" ry="12.8" fill="none" stroke="rgb(1,217,1)" stroke-width="3.5"/><ellipse cx="334.0" cy="356.0" rx="27.0" ry="22.0" fill="rgb(0,134,0)"/><ellipse cx="334.0" cy="356.0" rx="25.8" ry="20.8" fill="none" stroke="rgb(0,188,0)" stroke-width="3.5"/><ellipse cx="462.0" cy="358.0" rx="18.0" ry="12.0" fill="rgb(0,113,0)"/><ellipse cx="462.0" cy="358.0" rx="16.8" ry="10.8" fill="none" stroke="rgb(0,158,0)" stroke-width="3.5"/><ellipse cx="407.0" cy="364.0" rx="12.0" ry="12.0" fill="rgb(0,123,0)"/><ellipse cx="407.0" cy="364.0" rx="10.8" ry="10.8" fill="none" stroke="rgb(0,173,0)" stroke-width="3.5"/><ellipse cx="487.0" cy="373.0" rx="14.0" ry="8.0" fill="rgb(0,102,0)"/><ellipse cx="487.0" cy="373.0" rx="12.8" ry="6.8" fill="none" stroke="rgb(0,144,0)" stroke-width="3.5"/><ellipse cx="509.0" cy="387.0" rx="12.0" ry="7.0" fill="rgb(0,88,0)"/><ellipse cx="509.0" cy="387.0" rx="10.8" ry="5.8" fill="none" stroke="rgb(0,123,0)" stroke-width="3.5"/><ellipse cx="416.0" cy="392.0" rx="23.0" ry="13.0" fill="rgb(0,144,0)"/><ellipse cx="416.0" cy="392.0" rx="21.8" ry="11.8" fill="none" stroke="rgb(0,202,0)" stroke-width="3.5"/><ellipse cx="413.0" cy="420.0" rx="22.0" ry="20.0" fill="rgb(0,134,0)"/><ellipse cx="413.0" cy="420.0" rx="20.8" ry="18.8" fill="none" stroke="rgb(0,188,0)" stroke-width="3.5"/><ellipse cx="439.0" cy="445.0" rx="15.0" ry="15.0" fill="rgb(0,47,0)"/><ellipse cx="439.0" cy="445.0" rx="13.8" ry="13.8" fill="none" stroke="rgb(0,66,0)" stroke-width="3.5"/><ellipse cx="500.0" cy="465.0" rx="12.0" ry="12.0" fill="rgb(0,54,0)"/><ellipse cx="500.0" cy="465.0" rx="10.8" ry="10.8" fill="none" stroke="rgb(0,75,0)" stroke-width="3.5"/><ellipse cx="605.0" cy="469.0" rx="12.0" ry="12.0" fill="rgb(0,65,0)"/><ellipse cx="605.0" cy="469.0" rx="10.8" ry="10.8" fill="none" stroke="rgb(0,91,0)" stroke-width="3.5"/><ellipse cx="394.0" cy="465.0" rx="12.0" ry="12.0" fill="rgb(0,42,0)"/><ellipse cx="394.0" cy="465.0" rx="10.8" ry="10.8" fill="none" stroke="rgb(0,60,0)" stroke-width="3.5"/><ellipse cx="337.0" cy="485.0" rx="8.0" ry="8.0" fill="rgb(0,47,0)"/><ellipse cx="337.0" cy="485.0" rx="6.8" ry="6.8" fill="none" stroke="rgb(0,66,0)" stroke-width="3.5"/><ellipse cx="323.0" cy="449.0" rx="9.0" ry="9.0" fill="rgb(0,36,0)"/><ellipse cx="323.0" cy="449.0" rx="7.8" ry="7.8" fill="none" stroke="rgb(0,50,0)" stroke-width="3.5"/><ellipse cx="370.0" cy="499.0" rx="12.0" ry="8.0" fill="rgb(0,36,0)"/><ellipse cx="370.0" cy="499.0" rx="10.8" ry="6.8" fill="none" stroke="rgb(0,50,0)" stroke-width="3.5"/><ellipse cx="507.0" cy="503.0" rx="8.0" ry="10.0" fill="rgb(0,47,0)"/><ellipse cx="507.0" cy="503.0" rx="6.8" ry="8.8" fill="none" stroke="rgb(0,66,0)" stroke-width="3.5"/><ellipse cx="316.0" cy="410.0" rx="9.0" ry="9.0" fill="rgb(0,54,0)"/><ellipse cx="316.0" cy="410.0" rx="7.8" ry="7.8" fill="none" stroke="rgb(0,75,0)" stroke-width="3.5"/><ellipse cx="543.0" cy="294.0" rx="8.0" ry="8.0" fill="rgb(0,173,0)"/><ellipse cx="543.0" cy="294.0" rx="6.8" ry="6.8" fill="none" stroke="rgb(16,242,16)" stroke-width="3.5"/><ellipse cx="430.0" cy="304.0" rx="10.0" ry="6.0" fill="rgb(0,173,0)"/><ellipse cx="430.0" cy="304.0" rx="8.8" ry="4.8" fill="none" stroke="rgb(16,242,16)" stroke-width="3.5"/><ellipse cx="450.0" cy="280.0" rx="18.0" ry="10.0" fill="rgb(0,79,0)"/><ellipse cx="450.0" cy="280.0" rx="16.8" ry="8.8" fill="none" stroke="rgb(0,110,0)" stroke-width="3.5"/><ellipse cx="560.0" cy="330.0" rx="30.0" ry="14.0" fill="rgb(0,24,0)"/><ellipse cx="590.0" cy="400.0" rx="24.0" ry="40.0" fill="rgb(0,18,0)"/><ellipse cx="540.0" cy="350.0" rx="20.0" ry="10.0" fill="rgb(0,45,0)"/><ellipse cx="540.0" cy="350.0" rx="18.8" ry="8.8" fill="none" stroke="rgb(0,63,0)" stroke-width="3.5"/><ellipse cx="360.0" cy="420.0" rx="28.0" ry="26.0" fill="rgb(0,6,0)"/><ellipse cx="560.0" cy="500.0" rx="50.0" ry="12.0" fill="rgb(0,4,0)"/><ellipse cx="450.0" cy="490.0" rx="30.0" ry="10.0" fill="rgb(0,5,0)"/></g>
<g filter="url(#wbri)"><ellipse cx="155.0" cy="138.0" rx="16.0" ry="14.0" fill="rgb(0,170,0)"/><ellipse cx="291.0" cy="46.0" rx="14.0" ry="12.0" fill="rgb(0,170,0)"/><ellipse cx="285.0" cy="11.0" rx="10.0" ry="8.0" fill="rgb(0,160,0)"/><ellipse cx="53.0" cy="217.0" rx="18.0" ry="10.0" fill="rgb(0,120,0)"/><ellipse cx="294.0" cy="162.0" rx="9.0" ry="9.0" fill="rgb(0,150,0)"/><ellipse cx="105.0" cy="150.0" rx="9.0" ry="8.0" fill="rgb(0,120,0)"/><ellipse cx="315.0" cy="74.0" rx="13.0" ry="10.0" fill="rgb(0,190,0)"/><ellipse cx="476.0" cy="62.0" rx="13.0" ry="6.0" fill="rgb(0,200,0)"/><ellipse cx="504.0" cy="93.0" rx="7.0" ry="7.0" fill="rgb(0,110,0)"/><ellipse cx="605.0" cy="135.0" rx="10.0" ry="10.0" fill="rgb(0,195,0)"/><ellipse cx="432.0" cy="246.0" rx="17.0" ry="12.0" fill="rgb(0,170,0)"/><ellipse cx="415.0" cy="237.0" rx="8.0" ry="8.0" fill="rgb(0,155,0)"/><ellipse cx="263.0" cy="270.0" rx="20.0" ry="5.0" fill="rgb(0,165,0)"/><ellipse cx="70.0" cy="348.0" rx="24.0" ry="6.0" fill="rgb(0,195,0)" transform="rotate(-15 70.0 348.0)"/><ellipse cx="385.0" cy="271.0" rx="15.0" ry="12.0" fill="rgb(0,185,0)"/><ellipse cx="370.0" cy="293.0" rx="8.0" ry="5.0" fill="rgb(0,195,0)"/><ellipse cx="450.0" cy="417.0" rx="12.0" ry="10.0" fill="rgb(0,180,0)"/><ellipse cx="520.0" cy="409.0" rx="15.0" ry="11.0" fill="rgb(0,200,0)"/><ellipse cx="565.0" cy="431.0" rx="14.0" ry="12.0" fill="rgb(6,225,6)"/><ellipse cx="478.0" cy="445.0" rx="12.0" ry="10.0" fill="rgb(6,225,6)"/><ellipse cx="507.0" cy="448.0" rx="14.0" ry="9.0" fill="rgb(18,245,18)"/></g>
<g filter="url(#wbri)"><path d="M96.0,52.0 Q112.0,60.0 114.0,68.0 Q116.0,76.0 112.0,84.0 Q108.0,92.0 94.0,98.0" fill="none" stroke="rgb(0,200,0)" stroke-width="5.4" stroke-linecap="round" stroke-linejoin="round"/><path d="M77.0,100.0 Q88.0,98.0 97.0,97.0" fill="none" stroke="rgb(0,170,0)" stroke-width="5.4" stroke-linecap="round" stroke-linejoin="round"/><path d="M160.0,71.0 Q175.0,67.0 183.5,69.0 Q192.0,71.0 210.0,72.0" fill="none" stroke="rgb(24,255,24)" stroke-width="9.5" stroke-linecap="round" stroke-linejoin="round"/><ellipse cx="193.0" cy="80.0" rx="5.0" ry="4.0" fill="rgb(9,230,9)"/><ellipse cx="170.0" cy="84.0" rx="5.0" ry="4.0" fill="rgb(9,230,9)"/><ellipse cx="206.0" cy="83.0" rx="5.0" ry="4.0" fill="rgb(0,200,0)"/><path d="M224.0,43.0 Q236.0,44.0 246.0,41.0" fill="none" stroke="rgb(15,240,15)" stroke-width="6.8" stroke-linecap="round" stroke-linejoin="round"/><path d="M256.0,36.0 Q258.0,24.0 270.0,18.0" fill="none" stroke="rgb(0,200,0)" stroke-width="5.4" stroke-linecap="round" stroke-linejoin="round"/><ellipse cx="254.0" cy="91.0" rx="14.0" ry="6.0" fill="rgb(24,255,24)"/><path d="M242.0,108.0 Q243.0,118.0 254.0,122.0" fill="none" stroke="rgb(9,230,9)" stroke-width="5.4" stroke-linecap="round" stroke-linejoin="round"/><path d="M262.0,135.0 Q280.0,140.0 300.0,132.0" fill="none" stroke="rgb(9,230,9)" stroke-width="6.8" stroke-linecap="round" stroke-linejoin="round"/><path d="M229.0,121.0 Q212.0,124.0 208.0,128.0 Q204.0,132.0 193.0,141.0" fill="none" stroke="rgb(24,255,24)" stroke-width="6.8" stroke-linecap="round" stroke-linejoin="round"/><ellipse cx="150.0" cy="132.0" rx="8.0" ry="6.0" fill="rgb(15,240,15)"/><ellipse cx="160.0" cy="146.0" rx="10.0" ry="5.0" fill="rgb(3,220,3)"/><path d="M107.0,135.0 Q116.0,140.0 118.0,150.0" fill="none" stroke="rgb(3,220,3)" stroke-width="6.8" stroke-linecap="round" stroke-linejoin="round"/><ellipse cx="105.0" cy="153.0" rx="5.0" ry="4.0" fill="rgb(15,240,15)"/><path d="M68.0,150.0 Q62.0,162.0 58.0,172.0" fill="none" stroke="rgb(0,190,0)" stroke-width="6.8" stroke-linecap="round" stroke-linejoin="round"/><ellipse cx="155.0" cy="181.0" rx="10.0" ry="9.0" fill="none" stroke="rgb(24,255,24)" stroke-width="6.1"/><ellipse cx="213.0" cy="178.0" rx="26.0" ry="14.0" fill="none" stroke="rgb(24,255,24)" stroke-width="6.1"/><ellipse cx="196.0" cy="184.0" rx="6.0" ry="5.0" fill="rgb(24,255,24)"/><ellipse cx="222.0" cy="190.0" rx="10.0" ry="4.0" fill="rgb(24,255,24)"/><path d="M257.0,198.0 Q259.0,208.0 265.5,209.5 Q272.0,211.0 286.0,208.0" fill="none" stroke="rgb(24,255,24)" stroke-width="6.8" stroke-linecap="round" stroke-linejoin="round"/><path d="M282.0,152.0 Q296.0,160.0 302.0,170.0" fill="none" stroke="rgb(0,200,0)" stroke-width="6.8" stroke-linecap="round" stroke-linejoin="round"/><ellipse cx="15.0" cy="224.0" rx="10.0" ry="5.0" fill="rgb(9,230,9)"/><ellipse cx="53.0" cy="217.0" rx="17.0" ry="9.0" fill="none" stroke="rgb(9,230,9)" stroke-width="5.4"/><ellipse cx="99.0" cy="209.0" rx="6.0" ry="10.0" fill="rgb(3,220,3)"/><path d="M133.0,201.0 Q120.0,210.0 117.0,216.0 Q114.0,222.0 118.0,237.0" fill="none" stroke="rgb(9,230,9)" stroke-width="6.1" stroke-linecap="round" stroke-linejoin="round"/><ellipse cx="181.0" cy="209.0" rx="8.0" ry="5.0" fill="rgb(3,220,3)"/><ellipse cx="20.0" cy="246.0" rx="14.0" ry="5.0" fill="none" stroke="rgb(24,255,24)" stroke-width="5.4"/><path d="M60.0,238.0 Q70.0,226.0 79.0,226.0 Q88.0,226.0 98.0,238.0" fill="none" stroke="rgb(0,170,0)" stroke-width="4.7" stroke-linecap="round" stroke-linejoin="round"/><ellipse cx="240.0" cy="241.0" rx="8.0" ry="4.0" fill="rgb(0,200,0)"/><ellipse cx="272.0" cy="246.0" rx="12.0" ry="5.0" fill="rgb(0,180,0)"/><ellipse cx="192.0" cy="33.0" rx="6.0" ry="4.0" fill="rgb(3,220,3)"/><ellipse cx="190.0" cy="46.0" rx="12.0" ry="5.0" fill="rgb(0,170,0)"/><ellipse cx="263.0" cy="70.0" rx="9.0" ry="3.5" fill="rgb(0,210,0)"/><ellipse cx="294.0" cy="80.0" rx="12.0" ry="4.0" fill="rgb(9,230,9)"/><ellipse cx="178.0" cy="161.0" rx="5.0" ry="4.0" fill="rgb(9,230,9)"/><ellipse cx="399.0" cy="32.0" rx="5.0" ry="4.0" fill="rgb(24,255,24)"/><path d="M407.0,80.0 Q416.0,74.0 425.0,71.0" fill="none" stroke="rgb(24,255,24)" stroke-width="6.8" stroke-linecap="round" stroke-linejoin="round"/><ellipse cx="419.0" cy="118.0" rx="12.0" ry="4.0" fill="rgb(0,190,0)"/><ellipse cx="387.0" cy="121.0" rx="8.0" ry="11.0" fill="rgb(0,215,0)"/><path d="M351.0,110.0 Q362.0,105.0 376.0,107.0" fill="none" stroke="rgb(0,200,0)" stroke-width="5.4" stroke-linecap="round" stroke-linejoin="round"/><ellipse cx="387.0" cy="155.0" rx="12.0" ry="11.0" fill="rgb(21,250,21)"/><path d="M308.0,165.0 Q318.0,164.0 328.0,173.0" fill="none" stroke="rgb(0,200,0)" stroke-width="6.8" stroke-linecap="round" stroke-linejoin="round"/><ellipse cx="340.0" cy="193.0" rx="4.5" ry="10.0" fill="rgb(3,220,3)"/><ellipse cx="325.0" cy="201.0" rx="5.0" ry="5.0" fill="rgb(0,200,0)"/><ellipse cx="473.0" cy="148.0" rx="11.0" ry="11.0" fill="none" stroke="rgb(0,180,0)" stroke-width="4.1"/><ellipse cx="490.0" cy="127.0" rx="4.0" ry="5.0" fill="rgb(24,255,24)"/><ellipse cx="521.0" cy="131.0" rx="3.0" ry="3.0" fill="rgb(9,230,9)"/><ellipse cx="537.0" cy="133.0" rx="3.0" ry="3.0" fill="rgb(9,230,9)"/><ellipse cx="551.0" cy="155.0" rx="4.0" ry="7.0" fill="rgb(3,220,3)"/><ellipse cx="453.0" cy="175.0" rx="8.0" ry="5.0" fill="rgb(24,255,24)"/><ellipse cx="433.0" cy="181.0" rx="4.0" ry="6.0" fill="rgb(0,180,0)"/><path d="M517.0,179.0 Q526.0,176.0 535.0,180.0" fill="none" stroke="rgb(3,220,3)" stroke-width="4.7" stroke-linecap="round" stroke-linejoin="round"/><path d="M478.0,216.0 Q478.0,204.0 482.5,199.5 Q487.0,195.0 493.5,193.5 Q500.0,192.0 511.0,194.0" fill="none" stroke="rgb(24,255,24)" stroke-width="8.1" stroke-linecap="round" stroke-linejoin="round"/><path d="M480.0,208.0 Q486.0,216.0 491.0,221.0" fill="none" stroke="rgb(0,200,0)" stroke-width="6.8" stroke-linecap="round" stroke-linejoin="round"/><ellipse cx="453.0" cy="220.0" rx="4.0" ry="8.0" fill="rgb(0,200,0)"/><ellipse cx="404.0" cy="210.0" rx="5.0" ry="3.0" fill="rgb(3,220,3)"/><ellipse cx="597.0" cy="220.0" rx="4.0" ry="4.0" fill="rgb(9,230,9)"/><ellipse cx="432.0" cy="246.0" rx="16.0" ry="11.0" fill="none" stroke="rgb(9,230,9)" stroke-width="5.4"/><ellipse cx="360.0" cy="158.0" rx="10.0" ry="10.0" fill="none" stroke="rgb(0,160,0)" stroke-width="4.1"/><ellipse cx="320.0" cy="53.0" rx="4.0" ry="4.0" fill="rgb(0,170,0)"/><ellipse cx="70.0" cy="262.0" rx="15.0" ry="5.0" fill="rgb(24,255,24)"/><ellipse cx="100.0" cy="276.0" rx="12.0" ry="6.0" fill="rgb(24,255,24)"/><path d="M112.0,278.0 Q125.0,273.0 132.0,272.0 Q139.0,271.0 156.0,268.0" fill="none" stroke="rgb(24,255,24)" stroke-width="6.8" stroke-linecap="round" stroke-linejoin="round"/><ellipse cx="186.0" cy="276.0" rx="3.0" ry="6.0" fill="rgb(9,230,9)"/><ellipse cx="209.0" cy="277.0" rx="9.0" ry="8.0" fill="rgb(15,240,15)"/><ellipse cx="56.0" cy="305.0" rx="9.0" ry="4.0" fill="rgb(24,255,24)"/><ellipse cx="50.0" cy="297.0" rx="4.0" ry="4.0" fill="rgb(9,230,9)"/><path d="M131.0,299.0 Q130.0,312.0 127.0,325.0" fill="none" stroke="rgb(24,255,24)" stroke-width="6.8" stroke-linecap="round" stroke-linejoin="round"/><ellipse cx="111.0" cy="327.0" rx="13.0" ry="7.0" fill="rgb(24,255,24)"/><ellipse cx="170.0" cy="316.0" rx="18.0" ry="7.0" fill="rgb(9,230,9)"/><ellipse cx="196.0" cy="325.0" rx="20.0" ry="6.0" fill="rgb(24,255,24)"/><ellipse cx="251.0" cy="308.0" rx="8.0" ry="3.0" fill="rgb(9,230,9)"/><path d="M36.0,318.0 Q30.0,345.0 26.5,356.0 Q23.0,367.0 17.5,373.5 Q12.0,380.0 3.0,389.0" fill="none" stroke="rgb(0,215,0)" stroke-width="10.8" stroke-linecap="round" stroke-linejoin="round"/><path d="M232.0,361.0 Q248.0,367.0 263.0,367.0" fill="none" stroke="rgb(3,220,3)" stroke-width="6.8" stroke-linecap="round" stroke-linejoin="round"/><ellipse cx="278.0" cy="325.0" rx="5.0" ry="5.0" fill="rgb(9,230,9)"/><ellipse cx="297.0" cy="370.0" rx="11.0" ry="4.0" fill="rgb(24,255,24)"/><ellipse cx="29.0" cy="403.0" rx="9.0" ry="10.0" fill="none" stroke="rgb(0,130,0)" stroke-width="5.4"/><ellipse cx="31.0" cy="445.0" rx="13.0" ry="16.0" fill="none" stroke="rgb(0,110,0)" stroke-width="6.8"/><ellipse cx="285.0" cy="491.0" rx="6.0" ry="6.0" fill="rgb(0,170,0)"/><ellipse cx="23.0" cy="499.0" rx="10.0" ry="4.0" fill="rgb(0,160,0)"/><ellipse cx="227.0" cy="335.0" rx="6.0" ry="10.0" fill="rgb(0,190,0)"/><ellipse cx="270.0" cy="332.0" rx="12.0" ry="5.0" fill="rgb(0,180,0)"/><ellipse cx="432.0" cy="259.0" rx="10.0" ry="4.0" fill="rgb(9,230,9)"/><ellipse cx="462.0" cy="267.0" rx="8.0" ry="5.0" fill="rgb(9,230,9)"/><ellipse cx="524.0" cy="259.0" rx="5.0" ry="3.0" fill="rgb(15,240,15)"/><ellipse cx="489.0" cy="288.0" rx="12.0" ry="6.0" fill="rgb(15,240,15)"/><ellipse cx="537.0" cy="285.0" rx="6.0" ry="6.0" fill="rgb(24,255,24)"/><ellipse cx="602.0" cy="290.0" rx="6.0" ry="12.0" fill="rgb(15,240,15)"/><path d="M566.0,276.0 Q574.0,271.0 586.0,269.0" fill="none" stroke="rgb(0,200,0)" stroke-width="5.4" stroke-linecap="round" stroke-linejoin="round"/><ellipse cx="520.0" cy="311.0" rx="10.0" ry="10.0" fill="none" stroke="rgb(0,175,0)" stroke-width="4.1"/><path d="M375.0,322.0 Q390.0,321.0 410.0,326.0" fill="none" stroke="rgb(0,200,0)" stroke-width="5.4" stroke-linecap="round" stroke-linejoin="round"/><ellipse cx="384.0" cy="342.0" rx="4.0" ry="4.0" fill="rgb(24,255,24)"/><ellipse cx="367.0" cy="328.0" rx="9.0" ry="7.0" fill="none" stroke="rgb(0,180,0)" stroke-width="4.1"/><ellipse cx="338.0" cy="376.0" rx="32.0" ry="6.0" fill="rgb(12,235,12)" transform="rotate(8 338.0 376.0)"/><path d="M323.0,352.0 Q340.0,347.0 360.0,355.0" fill="none" stroke="rgb(0,200,0)" stroke-width="5.4" stroke-linecap="round" stroke-linejoin="round"/><ellipse cx="311.0" cy="370.0" rx="6.0" ry="5.0" fill="rgb(24,255,24)"/><ellipse cx="415.0" cy="362.0" rx="4.0" ry="4.0" fill="rgb(0,200,0)"/><ellipse cx="456.0" cy="401.0" rx="5.0" ry="3.0" fill="rgb(15,240,15)"/><ellipse cx="450.0" cy="417.0" rx="11.0" ry="9.0" fill="none" stroke="rgb(9,230,9)" stroke-width="4.1"/><ellipse cx="509.0" cy="409.0" rx="5.0" ry="7.0" fill="rgb(24,255,24)"/><ellipse cx="537.0" cy="415.0" rx="12.0" ry="8.0" fill="rgb(24,255,24)"/><ellipse cx="481.0" cy="451.0" rx="8.0" ry="5.0" fill="rgb(24,255,24)"/><ellipse cx="503.0" cy="446.0" rx="8.0" ry="6.0" fill="rgb(24,255,24)"/><ellipse cx="532.0" cy="462.0" rx="13.0" ry="8.0" fill="none" stroke="rgb(0,170,0)" stroke-width="4.1" transform="rotate(25 532.0 462.0)"/><ellipse cx="560.0" cy="373.0" rx="5.0" ry="5.0" fill="rgb(9,230,9)"/><ellipse cx="380.0" cy="268.0" rx="6.0" ry="5.0" fill="rgb(15,240,15)"/><ellipse cx="392.0" cy="276.0" rx="5.0" ry="4.0" fill="rgb(9,230,9)"/></g>
<g filter="url(#g1)"><ellipse cx="122.0" cy="57.0" rx="5.0" ry="6.0" fill="rgb(0,200,0)"/><ellipse cx="226.0" cy="17.0" rx="5.0" ry="5.0" fill="rgb(0,170,0)"/><ellipse cx="51.0" cy="173.0" rx="5.0" ry="7.0" fill="rgb(24,255,24)"/><ellipse cx="175.0" cy="240.0" rx="6.0" ry="5.0" fill="rgb(24,255,24)"/><ellipse cx="435.0" cy="36.0" rx="3.0" ry="3.0" fill="rgb(0,150,0)"/><ellipse cx="441.0" cy="33.0" rx="1.5" ry="1.5" fill="rgb(0,200,0)"/><ellipse cx="336.0" cy="114.0" rx="3.0" ry="2.5" fill="rgb(0,200,0)"/><ellipse cx="322.0" cy="121.0" rx="3.0" ry="3.0" fill="rgb(0,200,0)"/><ellipse cx="472.0" cy="100.0" rx="2.5" ry="2.5" fill="rgb(3,220,3)"/><ellipse cx="493.0" cy="107.0" rx="3.0" ry="3.0" fill="rgb(0,180,0)"/><ellipse cx="353.0" cy="241.0" rx="2.0" ry="2.0" fill="rgb(24,255,24)"/><ellipse cx="529.0" cy="254.0" rx="3.0" ry="3.0" fill="rgb(24,255,24)"/><ellipse cx="370.0" cy="212.0" rx="3.0" ry="3.0" fill="rgb(0,200,0)"/><ellipse cx="385.0" cy="220.0" rx="3.0" ry="3.0" fill="rgb(0,190,0)"/><ellipse cx="395.0" cy="215.0" rx="2.5" ry="2.5" fill="rgb(0,180,0)"/><ellipse cx="91.0" cy="412.0" rx="2.5" ry="2.5" fill="rgb(24,255,24)"/><ellipse cx="159.0" cy="381.0" rx="3.0" ry="2.5" fill="rgb(0,170,0)"/><ellipse cx="1.0" cy="429.0" rx="4.0" ry="5.0" fill="rgb(3,220,3)"/><ellipse cx="234.0" cy="412.0" rx="1.5" ry="1.5" fill="rgb(0,170,0)"/><ellipse cx="346.0" cy="307.0" rx="3.0" ry="3.0" fill="rgb(0,180,0)"/><ellipse cx="481.0" cy="301.0" rx="3.0" ry="3.0" fill="rgb(24,255,24)"/><ellipse cx="562.0" cy="296.0" rx="3.0" ry="3.0" fill="rgb(3,220,3)"/><ellipse cx="552.0" cy="319.0" rx="2.0" ry="2.0" fill="rgb(0,180,0)"/><ellipse cx="575.0" cy="341.0" rx="3.0" ry="3.0" fill="rgb(0,180,0)"/><ellipse cx="586.0" cy="349.0" rx="3.0" ry="3.0" fill="rgb(0,170,0)"/><ellipse cx="486.0" cy="324.0" rx="2.0" ry="2.0" fill="rgb(0,170,0)"/><ellipse cx="469.0" cy="348.0" rx="4.0" ry="4.0" fill="rgb(24,255,24)"/><ellipse cx="554.0" cy="367.0" rx="2.0" ry="2.0" fill="rgb(24,255,24)"/><ellipse cx="615.0" cy="267.0" rx="3.0" ry="5.0" fill="rgb(0,200,0)"/><ellipse cx="613.0" cy="315.0" rx="3.0" ry="3.0" fill="rgb(0,170,0)"/><ellipse cx="440.0" cy="330.0" rx="2.0" ry="2.0" fill="rgb(0,150,0)"/><ellipse cx="500.0" cy="340.0" rx="2.0" ry="2.0" fill="rgb(0,140,0)"/><ellipse cx="530.0" cy="340.0" rx="2.0" ry="2.0" fill="rgb(0,140,0)"/><ellipse cx="600.0" cy="360.0" rx="2.0" ry="2.0" fill="rgb(0,140,0)"/><ellipse cx="470.0" cy="310.0" rx="2.0" ry="2.0" fill="rgb(0,140,0)"/><ellipse cx="468.7" cy="302.3" rx="2.3" ry="1.9" fill="rgb(0,77,0)" transform="rotate(65.82400504426539 468.7 302.3)"/><ellipse cx="412.3" cy="343.4" rx="0.9" ry="1.1" fill="rgb(0,113,0)" transform="rotate(16.32834240189571 412.3 343.4)"/><ellipse cx="490.0" cy="380.1" rx="1.5" ry="1.2" fill="rgb(0,92,0)" transform="rotate(170.58760964226101 490.0 380.1)"/><ellipse cx="522.3" cy="330.6" rx="3.5" ry="2.4" fill="rgb(0,74,0)" transform="rotate(52.129671539701725 522.3 330.6)"/><ellipse cx="430.6" cy="298.5" rx="1.4" ry="1.4" fill="rgb(0,151,0)" transform="rotate(104.68802945924392 430.6 298.5)"/><ellipse cx="535.4" cy="327.8" rx="1.5" ry="1.8" fill="rgb(0,76,0)" transform="rotate(37.072568307478775 535.4 327.8)"/><ellipse cx="544.2" cy="334.2" rx="1.7" ry="1.4" fill="rgb(0,128,0)" transform="rotate(53.95805943546282 544.2 334.2)"/><ellipse cx="568.4" cy="365.4" rx="1.6" ry="1.3" fill="rgb(0,127,0)" transform="rotate(157.5247492032172 568.4 365.4)"/><ellipse cx="554.6" cy="318.1" rx="2.7" ry="2.4" fill="rgb(0,81,0)" transform="rotate(136.2853673217449 554.6 318.1)"/><ellipse cx="432.2" cy="341.2" rx="1.5" ry="1.1" fill="rgb(0,136,0)" transform="rotate(103.14466924992911 432.2 341.2)"/><ellipse cx="585.6" cy="321.1" rx="2.5" ry="2.0" fill="rgb(0,129,0)" transform="rotate(82.11695963425434 585.6 321.1)"/><ellipse cx="578.1" cy="393.6" rx="1.4" ry="1.7" fill="rgb(0,136,0)" transform="rotate(126.2685638347963 578.1 393.6)"/><ellipse cx="537.2" cy="399.2" rx="2.4" ry="2.2" fill="rgb(0,98,0)" transform="rotate(120.35748885915388 537.2 399.2)"/><ellipse cx="404.8" cy="338.1" rx="1.0" ry="1.2" fill="rgb(0,81,0)" transform="rotate(138.28193792505374 404.8 338.1)"/><ellipse cx="427.4" cy="313.5" rx="1.3" ry="1.5" fill="rgb(0,157,0)" transform="rotate(80.85373217087957 427.4 313.5)"/><ellipse cx="516.5" cy="386.6" rx="2.2" ry="2.1" fill="rgb(0,156,0)" transform="rotate(74.75337309810574 516.5 386.6)"/><ellipse cx="476.1" cy="386.7" rx="2.2" ry="2.3" fill="rgb(0,85,0)" transform="rotate(41.75223602751644 476.1 386.7)"/><ellipse cx="449.5" cy="340.8" rx="1.5" ry="1.8" fill="rgb(0,96,0)" transform="rotate(75.41037020255902 449.5 340.8)"/><ellipse cx="478.3" cy="350.1" rx="2.8" ry="2.3" fill="rgb(0,139,0)" transform="rotate(111.16669489364298 478.3 350.1)"/><ellipse cx="543.4" cy="291.2" rx="3.4" ry="2.3" fill="rgb(0,147,0)" transform="rotate(143.61716181538188 543.4 291.2)"/><ellipse cx="483.2" cy="330.9" rx="1.0" ry="1.1" fill="rgb(0,133,0)" transform="rotate(12.122570851744472 483.2 330.9)"/><ellipse cx="444.3" cy="303.7" rx="1.2" ry="1.5" fill="rgb(0,75,0)" transform="rotate(27.22768781029703 444.3 303.7)"/><ellipse cx="421.5" cy="326.8" rx="1.3" ry="1.0" fill="rgb(0,157,0)" transform="rotate(26.739087359560457 421.5 326.8)"/><ellipse cx="453.5" cy="324.9" rx="2.2" ry="1.5" fill="rgb(0,82,0)" transform="rotate(178.7584899068485 453.5 324.9)"/><ellipse cx="498.8" cy="340.6" rx="1.2" ry="1.1" fill="rgb(0,80,0)" transform="rotate(47.65624050909241 498.8 340.6)"/><ellipse cx="575.7" cy="303.6" rx="1.3" ry="1.0" fill="rgb(0,165,0)" transform="rotate(26.388457001836326 575.7 303.6)"/><ellipse cx="515.2" cy="288.1" rx="2.6" ry="1.7" fill="rgb(0,167,0)" transform="rotate(125.31542146340433 515.2 288.1)"/><ellipse cx="455.4" cy="327.2" rx="1.5" ry="1.2" fill="rgb(0,147,0)" transform="rotate(140.22988044087188 455.4 327.2)"/><ellipse cx="469.9" cy="310.6" rx="3.2" ry="2.1" fill="rgb(0,168,0)" transform="rotate(145.09414526142015 469.9 310.6)"/><ellipse cx="573.5" cy="370.1" rx="1.4" ry="1.3" fill="rgb(0,121,0)" transform="rotate(5.216427133445771 573.5 370.1)"/><ellipse cx="405.9" cy="317.1" rx="2.1" ry="1.4" fill="rgb(0,139,0)" transform="rotate(80.50098199801022 405.9 317.1)"/><ellipse cx="598.6" cy="398.6" rx="2.3" ry="2.3" fill="rgb(0,106,0)" transform="rotate(40.83224881153103 598.6 398.6)"/><ellipse cx="441.7" cy="308.5" rx="2.8" ry="1.9" fill="rgb(0,160,0)" transform="rotate(86.30521672707688 441.7 308.5)"/><ellipse cx="538.4" cy="377.0" rx="1.7" ry="1.1" fill="rgb(0,136,0)" transform="rotate(140.8145191376562 538.4 377.0)"/><ellipse cx="559.0" cy="340.0" rx="1.3" ry="1.2" fill="rgb(0,148,0)" transform="rotate(144.1482424014044 559.0 340.0)"/><ellipse cx="606.0" cy="330.5" rx="2.2" ry="1.6" fill="rgb(0,164,0)" transform="rotate(30.600658794941186 606.0 330.5)"/><ellipse cx="426.9" cy="302.4" rx="2.1" ry="2.3" fill="rgb(0,150,0)" transform="rotate(148.77188613456968 426.9 302.4)"/><ellipse cx="607.8" cy="360.6" rx="1.3" ry="1.5" fill="rgb(0,124,0)" transform="rotate(2.563728868099 607.8 360.6)"/><ellipse cx="605.8" cy="359.7" rx="2.0" ry="1.7" fill="rgb(0,163,0)" transform="rotate(156.91372703809273 605.8 359.7)"/><ellipse cx="575.1" cy="309.3" rx="1.3" ry="1.4" fill="rgb(0,99,0)" transform="rotate(105.55869026987311 575.1 309.3)"/><ellipse cx="455.0" cy="333.2" rx="1.3" ry="1.2" fill="rgb(0,161,0)" transform="rotate(82.46897756491205 455.0 333.2)"/><ellipse cx="523.7" cy="389.0" rx="1.9" ry="1.6" fill="rgb(0,161,0)" transform="rotate(95.72849323846809 523.7 389.0)"/><ellipse cx="511.0" cy="287.2" rx="1.3" ry="1.6" fill="rgb(0,88,0)" transform="rotate(143.8506810885999 511.0 287.2)"/><ellipse cx="436.5" cy="339.5" rx="2.1" ry="2.0" fill="rgb(0,125,0)" transform="rotate(93.30276828654664 436.5 339.5)"/><ellipse cx="517.8" cy="375.2" rx="1.1" ry="1.1" fill="rgb(0,126,0)" transform="rotate(49.845072683660675 517.8 375.2)"/><ellipse cx="563.7" cy="343.4" rx="2.7" ry="1.8" fill="rgb(0,145,0)" transform="rotate(79.784710843939 563.7 343.4)"/><ellipse cx="529.9" cy="343.1" rx="2.0" ry="1.7" fill="rgb(0,139,0)" transform="rotate(95.99137876425077 529.9 343.1)"/><ellipse cx="501.3" cy="393.3" rx="3.1" ry="2.0" fill="rgb(0,157,0)" transform="rotate(46.72661294118433 501.3 393.3)"/><ellipse cx="518.6" cy="393.5" rx="2.0" ry="2.2" fill="rgb(0,83,0)" transform="rotate(79.58125588950786 518.6 393.5)"/><ellipse cx="415.4" cy="312.7" rx="1.6" ry="1.1" fill="rgb(0,136,0)" transform="rotate(161.46475791817804 415.4 312.7)"/><ellipse cx="432.7" cy="367.4" rx="2.9" ry="1.9" fill="rgb(0,84,0)" transform="rotate(174.1580608799491 432.7 367.4)"/><ellipse cx="446.6" cy="394.5" rx="2.5" ry="1.6" fill="rgb(0,118,0)" transform="rotate(149.84004050693056 446.6 394.5)"/><ellipse cx="434.2" cy="334.6" rx="1.6" ry="1.7" fill="rgb(0,103,0)" transform="rotate(57.334602300784915 434.2 334.6)"/><ellipse cx="553.1" cy="287.2" rx="1.4" ry="1.8" fill="rgb(0,114,0)" transform="rotate(59.66962004555831 553.1 287.2)"/><ellipse cx="532.3" cy="343.9" rx="1.6" ry="1.1" fill="rgb(0,168,0)" transform="rotate(174.90527255647334 532.3 343.9)"/><ellipse cx="422.2" cy="315.5" rx="1.1" ry="1.1" fill="rgb(0,147,0)" transform="rotate(23.320000675021916 422.2 315.5)"/><ellipse cx="489.5" cy="389.8" rx="2.0" ry="2.1" fill="rgb(0,95,0)" transform="rotate(165.45087153211884 489.5 389.8)"/><ellipse cx="521.0" cy="365.5" rx="1.5" ry="1.1" fill="rgb(0,75,0)" transform="rotate(76.55706734323007 521.0 365.5)"/><ellipse cx="415.4" cy="392.9" rx="1.6" ry="1.9" fill="rgb(0,150,0)" transform="rotate(154.1211545469868 415.4 392.9)"/><ellipse cx="414.1" cy="384.2" rx="2.0" ry="1.6" fill="rgb(0,103,0)" transform="rotate(166.8004711328209 414.1 384.2)"/><ellipse cx="456.8" cy="299.9" rx="1.5" ry="1.7" fill="rgb(0,93,0)" transform="rotate(29.06083648757004 456.8 299.9)"/><ellipse cx="410.7" cy="308.2" rx="2.0" ry="1.4" fill="rgb(0,100,0)" transform="rotate(52.19295025038447 410.7 308.2)"/><ellipse cx="506.0" cy="305.5" rx="1.5" ry="1.5" fill="rgb(0,71,0)" transform="rotate(2.7623011419035426 506.0 305.5)"/><ellipse cx="555.4" cy="348.4" rx="2.0" ry="1.3" fill="rgb(0,117,0)" transform="rotate(19.130642104876454 555.4 348.4)"/><ellipse cx="573.6" cy="334.7" rx="1.9" ry="1.7" fill="rgb(0,153,0)" transform="rotate(91.20347138792982 573.6 334.7)"/><ellipse cx="545.8" cy="398.0" rx="2.0" ry="1.5" fill="rgb(0,153,0)" transform="rotate(114.47585079930263 545.8 398.0)"/><ellipse cx="485.8" cy="325.0" rx="0.9" ry="1.1" fill="rgb(0,82,0)" transform="rotate(133.36005567292696 485.8 325.0)"/><ellipse cx="454.2" cy="303.8" rx="1.7" ry="1.1" fill="rgb(0,154,0)" transform="rotate(120.69779362356213 454.2 303.8)"/><ellipse cx="459.8" cy="312.9" rx="1.3" ry="1.4" fill="rgb(0,115,0)" transform="rotate(80.24842948207325 459.8 312.9)"/><ellipse cx="455.8" cy="395.6" rx="2.4" ry="2.4" fill="rgb(0,124,0)" transform="rotate(173.82001861058131 455.8 395.6)"/><ellipse cx="373.3" cy="132.4" rx="1.2" ry="1.0" fill="rgb(0,90,0)" transform="rotate(90.49752114775193 373.3 132.4)"/><ellipse cx="358.1" cy="148.0" rx="0.9" ry="1.0" fill="rgb(0,81,0)" transform="rotate(71.91201065200664 358.1 148.0)"/><ellipse cx="335.8" cy="97.4" rx="1.8" ry="1.4" fill="rgb(0,78,0)" transform="rotate(95.25411869275979 335.8 97.4)"/><ellipse cx="435.1" cy="164.0" rx="2.2" ry="2.0" fill="rgb(0,130,0)" transform="rotate(58.704255742742916 435.1 164.0)"/><ellipse cx="467.9" cy="110.7" rx="1.7" ry="2.0" fill="rgb(0,111,0)" transform="rotate(150.35211778210086 467.9 110.7)"/><ellipse cx="454.9" cy="160.9" rx="1.8" ry="2.0" fill="rgb(0,124,0)" transform="rotate(94.27631121513312 454.9 160.9)"/><ellipse cx="400.6" cy="182.7" rx="2.7" ry="2.1" fill="rgb(0,126,0)" transform="rotate(160.7093525529914 400.6 182.7)"/><ellipse cx="425.6" cy="167.8" rx="1.2" ry="1.3" fill="rgb(0,62,0)" transform="rotate(64.92734575802751 425.6 167.8)"/><ellipse cx="344.7" cy="182.8" rx="2.3" ry="1.8" fill="rgb(0,110,0)" transform="rotate(122.5195516945477 344.7 182.8)"/><ellipse cx="398.5" cy="95.3" rx="2.5" ry="2.1" fill="rgb(0,119,0)" transform="rotate(96.33596656135876 398.5 95.3)"/><ellipse cx="422.3" cy="101.9" rx="1.7" ry="2.0" fill="rgb(0,80,0)" transform="rotate(47.800479995171806 422.3 101.9)"/><ellipse cx="432.1" cy="116.5" rx="2.4" ry="2.0" fill="rgb(0,138,0)" transform="rotate(68.8608859018473 432.1 116.5)"/><ellipse cx="397.1" cy="166.8" rx="2.7" ry="2.1" fill="rgb(0,109,0)" transform="rotate(13.944927513204124 397.1 166.8)"/><ellipse cx="350.6" cy="121.7" rx="2.6" ry="2.0" fill="rgb(0,84,0)" transform="rotate(2.2444583984891 350.6 121.7)"/><ellipse cx="338.5" cy="123.2" rx="2.6" ry="1.9" fill="rgb(0,115,0)" transform="rotate(52.354166117286425 338.5 123.2)"/><ellipse cx="402.3" cy="143.8" rx="2.5" ry="1.7" fill="rgb(0,69,0)" transform="rotate(35.86500537471054 402.3 143.8)"/><ellipse cx="466.9" cy="193.3" rx="1.5" ry="1.0" fill="rgb(0,96,0)" transform="rotate(174.25948529712593 466.9 193.3)"/><ellipse cx="392.9" cy="123.2" rx="1.3" ry="1.3" fill="rgb(0,135,0)" transform="rotate(104.66502618979332 392.9 123.2)"/><ellipse cx="349.8" cy="150.0" rx="3.4" ry="2.3" fill="rgb(0,70,0)" transform="rotate(91.57398365678056 349.8 150.0)"/><ellipse cx="454.2" cy="168.9" rx="1.6" ry="1.3" fill="rgb(0,131,0)" transform="rotate(4.470192556319736 454.2 168.9)"/><ellipse cx="330.5" cy="146.6" rx="1.5" ry="1.6" fill="rgb(0,84,0)" transform="rotate(61.91282635703017 330.5 146.6)"/><ellipse cx="374.3" cy="183.2" rx="1.5" ry="1.0" fill="rgb(0,120,0)" transform="rotate(21.60744256659286 374.3 183.2)"/><ellipse cx="459.7" cy="169.9" rx="2.5" ry="2.3" fill="rgb(0,83,0)" transform="rotate(70.72188876739881 459.7 169.9)"/><ellipse cx="469.8" cy="156.9" rx="1.5" ry="1.5" fill="rgb(0,94,0)" transform="rotate(8.688257414957771 469.8 156.9)"/><ellipse cx="344.2" cy="182.6" rx="1.4" ry="1.4" fill="rgb(0,134,0)" transform="rotate(47.83104269596436 344.2 182.6)"/><ellipse cx="401.5" cy="114.9" rx="2.3" ry="1.5" fill="rgb(0,136,0)" transform="rotate(146.153208144739 401.5 114.9)"/><ellipse cx="418.3" cy="190.9" rx="3.2" ry="2.3" fill="rgb(0,103,0)" transform="rotate(8.905686199842114 418.3 190.9)"/><ellipse cx="432.5" cy="142.3" rx="2.1" ry="2.1" fill="rgb(0,111,0)" transform="rotate(8.8158428977649 432.5 142.3)"/><ellipse cx="459.7" cy="108.4" rx="1.7" ry="1.7" fill="rgb(0,87,0)" transform="rotate(133.02585089932492 459.7 108.4)"/><ellipse cx="466.7" cy="122.3" rx="2.4" ry="1.9" fill="rgb(0,84,0)" transform="rotate(70.98619998658934 466.7 122.3)"/><ellipse cx="188.4" cy="341.3" rx="1.5" ry="1.3" fill="rgb(0,132,0)" transform="rotate(39.60454539610066 188.4 341.3)"/><ellipse cx="314.1" cy="399.8" rx="1.6" ry="1.6" fill="rgb(0,71,0)" transform="rotate(16.328611459174127 314.1 399.8)"/><ellipse cx="218.1" cy="336.4" rx="1.7" ry="1.3" fill="rgb(0,80,0)" transform="rotate(159.70526265810958 218.1 336.4)"/><ellipse cx="287.4" cy="358.9" rx="1.7" ry="1.6" fill="rgb(0,101,0)" transform="rotate(60.87655809059724 287.4 358.9)"/><ellipse cx="170.6" cy="349.4" rx="2.8" ry="2.4" fill="rgb(0,70,0)" transform="rotate(113.33284305226907 170.6 349.4)"/><ellipse cx="306.7" cy="345.1" rx="1.5" ry="1.4" fill="rgb(0,79,0)" transform="rotate(80.25451062418969 306.7 345.1)"/><ellipse cx="322.2" cy="389.4" rx="1.8" ry="2.2" fill="rgb(0,61,0)" transform="rotate(127.71212128895772 322.2 389.4)"/><ellipse cx="312.3" cy="363.1" rx="2.0" ry="1.8" fill="rgb(0,60,0)" transform="rotate(166.8289092709789 312.3 363.1)"/><ellipse cx="300.4" cy="389.9" rx="2.1" ry="2.4" fill="rgb(0,79,0)" transform="rotate(27.78810938725085 300.4 389.9)"/><ellipse cx="248.8" cy="377.7" rx="3.1" ry="2.3" fill="rgb(0,117,0)" transform="rotate(137.66409859865635 248.8 377.7)"/><ellipse cx="237.7" cy="368.6" rx="1.0" ry="1.1" fill="rgb(0,122,0)" transform="rotate(165.58561970864616 237.7 368.6)"/><ellipse cx="269.7" cy="351.3" rx="1.5" ry="1.2" fill="rgb(0,80,0)" transform="rotate(125.74474511662072 269.7 351.3)"/><ellipse cx="179.1" cy="334.9" rx="1.9" ry="1.7" fill="rgb(0,106,0)" transform="rotate(40.24494604980717 179.1 334.9)"/><ellipse cx="262.2" cy="330.7" rx="2.2" ry="1.4" fill="rgb(0,96,0)" transform="rotate(116.023615085289 262.2 330.7)"/><ellipse cx="310.2" cy="363.3" rx="2.1" ry="1.3" fill="rgb(0,79,0)" transform="rotate(126.8376593063548 310.2 363.3)"/><ellipse cx="212.3" cy="331.5" rx="1.9" ry="1.7" fill="rgb(0,113,0)" transform="rotate(46.30610198535986 212.3 331.5)"/><ellipse cx="273.5" cy="394.8" rx="1.4" ry="1.3" fill="rgb(0,62,0)" transform="rotate(75.70023227645143 273.5 394.8)"/><ellipse cx="276.0" cy="343.9" rx="2.5" ry="2.1" fill="rgb(0,119,0)" transform="rotate(36.93934566695399 276.0 343.9)"/><ellipse cx="324.9" cy="351.8" rx="2.1" ry="2.1" fill="rgb(0,78,0)" transform="rotate(136.88473314106537 324.9 351.8)"/><ellipse cx="210.1" cy="396.6" rx="1.7" ry="1.7" fill="rgb(0,74,0)" transform="rotate(75.06523477935254 210.1 396.6)"/><ellipse cx="273.1" cy="396.4" rx="1.2" ry="1.2" fill="rgb(0,91,0)" transform="rotate(175.3415468879259 273.1 396.4)"/><ellipse cx="184.1" cy="333.6" rx="1.6" ry="1.1" fill="rgb(0,91,0)" transform="rotate(159.04505473789567 184.1 333.6)"/><ellipse cx="284.6" cy="399.8" rx="2.2" ry="2.3" fill="rgb(0,86,0)" transform="rotate(168.45867927717836 284.6 399.8)"/><ellipse cx="286.9" cy="332.2" rx="2.1" ry="1.9" fill="rgb(0,90,0)" transform="rotate(59.7055481347317 286.9 332.2)"/><ellipse cx="188.8" cy="330.2" rx="2.2" ry="1.4" fill="rgb(0,88,0)" transform="rotate(22.26749078186752 188.8 330.2)"/><ellipse cx="323.9" cy="344.5" rx="2.2" ry="1.5" fill="rgb(0,125,0)" transform="rotate(77.84088012424742 323.9 344.5)"/><ellipse cx="168.4" cy="363.1" rx="1.5" ry="1.5" fill="rgb(0,133,0)" transform="rotate(65.56479523120495 168.4 363.1)"/><ellipse cx="312.5" cy="332.1" rx="2.2" ry="1.6" fill="rgb(0,124,0)" transform="rotate(7.316907104866049 312.5 332.1)"/><ellipse cx="165.9" cy="334.4" rx="3.2" ry="2.3" fill="rgb(0,80,0)" transform="rotate(161.73932201423446 165.9 334.4)"/><ellipse cx="217.6" cy="349.1" rx="2.4" ry="2.3" fill="rgb(0,109,0)" transform="rotate(128.99443435761273 217.6 349.1)"/><ellipse cx="381.1" cy="220.2" rx="1.5" ry="1.0" fill="rgb(0,138,0)" transform="rotate(114.1164077100738 381.1 220.2)"/><ellipse cx="462.6" cy="206.3" rx="2.1" ry="1.3" fill="rgb(0,112,0)" transform="rotate(171.70390441823156 462.6 206.3)"/><ellipse cx="390.2" cy="218.8" rx="2.5" ry="1.6" fill="rgb(0,114,0)" transform="rotate(32.9290616629044 390.2 218.8)"/><ellipse cx="444.3" cy="245.6" rx="2.8" ry="2.2" fill="rgb(0,139,0)" transform="rotate(59.003965966579514 444.3 245.6)"/><ellipse cx="381.5" cy="224.9" rx="2.0" ry="2.1" fill="rgb(0,77,0)" transform="rotate(135.51942071906274 381.5 224.9)"/><ellipse cx="372.1" cy="208.6" rx="1.1" ry="1.0" fill="rgb(0,119,0)" transform="rotate(176.44603875860398 372.1 208.6)"/><ellipse cx="454.9" cy="259.3" rx="1.2" ry="1.4" fill="rgb(0,77,0)" transform="rotate(89.72554831145541 454.9 259.3)"/><ellipse cx="432.3" cy="229.6" rx="1.7" ry="1.3" fill="rgb(0,107,0)" transform="rotate(121.33955137646194 432.3 229.6)"/><ellipse cx="437.2" cy="251.6" rx="2.8" ry="1.9" fill="rgb(0,80,0)" transform="rotate(52.880786435987375 437.2 251.6)"/><ellipse cx="413.7" cy="225.5" rx="2.0" ry="2.0" fill="rgb(0,87,0)" transform="rotate(44.16125344031096 413.7 225.5)"/><ellipse cx="359.9" cy="253.6" rx="2.0" ry="1.8" fill="rgb(0,99,0)" transform="rotate(178.64077079497918 359.9 253.6)"/><ellipse cx="406.0" cy="217.7" rx="3.4" ry="2.1" fill="rgb(0,128,0)" transform="rotate(18.41983572251034 406.0 217.7)"/><ellipse cx="401.7" cy="250.1" rx="1.8" ry="2.2" fill="rgb(0,152,0)" transform="rotate(52.861943855290725 401.7 250.1)"/><ellipse cx="355.5" cy="215.4" rx="3.6" ry="2.4" fill="rgb(0,122,0)" transform="rotate(67.00265342206076 355.5 215.4)"/><ellipse cx="452.6" cy="229.7" rx="2.1" ry="1.4" fill="rgb(0,139,0)" transform="rotate(19.04041122453146 452.6 229.7)"/><ellipse cx="417.5" cy="239.1" rx="1.2" ry="1.3" fill="rgb(0,103,0)" transform="rotate(36.71575874073264 417.5 239.1)"/><ellipse cx="373.1" cy="238.0" rx="1.5" ry="1.9" fill="rgb(0,88,0)" transform="rotate(58.90486176028161 373.1 238.0)"/><ellipse cx="428.2" cy="215.2" rx="2.1" ry="1.4" fill="rgb(0,88,0)" transform="rotate(98.6480701493566 428.2 215.2)"/><ellipse cx="348.2" cy="210.6" rx="2.0" ry="1.6" fill="rgb(0,119,0)" transform="rotate(16.407467704642585 348.2 210.6)"/><ellipse cx="361.3" cy="243.2" rx="1.6" ry="1.6" fill="rgb(0,95,0)" transform="rotate(171.57399065229984 361.3 243.2)"/><ellipse cx="380.6" cy="236.2" rx="2.2" ry="1.5" fill="rgb(0,107,0)" transform="rotate(179.3916640013427 380.6 236.2)"/><ellipse cx="387.3" cy="215.8" rx="1.6" ry="2.0" fill="rgb(0,88,0)" transform="rotate(162.29350468651975 387.3 215.8)"/><ellipse cx="283.9" cy="431.9" rx="1.8" ry="1.6" fill="rgb(0,112,0)" transform="rotate(29.25802427079914 283.9 431.9)"/><ellipse cx="251.2" cy="419.8" rx="1.7" ry="1.9" fill="rgb(0,114,0)" transform="rotate(111.99502711669327 251.2 419.8)"/><ellipse cx="279.7" cy="417.7" rx="1.5" ry="1.2" fill="rgb(0,76,0)" transform="rotate(166.58996218500593 279.7 417.7)"/><ellipse cx="258.7" cy="417.1" rx="2.0" ry="2.1" fill="rgb(0,118,0)" transform="rotate(22.797063817922854 258.7 417.1)"/><ellipse cx="325.4" cy="438.9" rx="2.6" ry="1.7" fill="rgb(0,63,0)" transform="rotate(69.82113283524657 325.4 438.9)"/><ellipse cx="322.3" cy="422.9" rx="3.1" ry="2.2" fill="rgb(0,69,0)" transform="rotate(39.97351565800276 322.3 422.9)"/><ellipse cx="282.4" cy="433.1" rx="2.1" ry="2.2" fill="rgb(0,70,0)" transform="rotate(71.95420495375117 282.4 433.1)"/><ellipse cx="291.4" cy="412.3" rx="1.6" ry="1.2" fill="rgb(0,74,0)" transform="rotate(161.51310395201463 291.4 412.3)"/><ellipse cx="253.3" cy="420.3" rx="3.0" ry="2.1" fill="rgb(0,62,0)" transform="rotate(21.191582755525193 253.3 420.3)"/><ellipse cx="298.0" cy="419.8" rx="2.1" ry="1.9" fill="rgb(0,78,0)" transform="rotate(104.87243894388223 298.0 419.8)"/></g>
</g></g>
<g transform="translate(1698,62)"><g clip-path="url(#cCK)">
<rect x="0" y="0" width="616" height="512.7" fill="#000"/>
<g filter="url(#cdimf)"><ellipse cx="42.0" cy="90.0" rx="14.0" ry="14.0" fill="rgb(0,40,0)"/><ellipse cx="76.0" cy="104.0" rx="22.0" ry="12.0" fill="rgb(0,41,0)"/><ellipse cx="31.0" cy="122.0" rx="6.0" ry="10.0" fill="rgb(0,52,0)"/><ellipse cx="37.0" cy="158.0" rx="8.0" ry="8.0" fill="rgb(0,52,0)"/><ellipse cx="68.0" cy="183.0" rx="21.0" ry="21.0" fill="rgb(0,17,0)"/><ellipse cx="108.0" cy="122.0" rx="20.0" ry="20.0" fill="rgb(0,14,0)"/><ellipse cx="93.0" cy="150.0" rx="10.0" ry="10.0" fill="rgb(0,36,0)"/><ellipse cx="186.0" cy="161.0" rx="23.0" ry="15.0" fill="rgb(0,17,0)"/><ellipse cx="131.0" cy="218.0" rx="18.0" ry="18.0" fill="rgb(0,54,0)"/><ellipse cx="175.0" cy="232.0" rx="26.0" ry="26.0" fill="rgb(0,22,0)"/><ellipse cx="263.0" cy="43.0" rx="20.0" ry="20.0" fill="rgb(0,25,0)"/><ellipse cx="238.0" cy="100.0" rx="9.0" ry="9.0" fill="rgb(0,44,0)"/><ellipse cx="248.0" cy="124.0" rx="6.0" ry="6.0" fill="rgb(0,44,0)"/><ellipse cx="294.0" cy="223.0" rx="14.0" ry="12.0" fill="rgb(0,38,0)"/><ellipse cx="271.0" cy="229.0" rx="23.0" ry="19.0" fill="rgb(0,25,0)"/><ellipse cx="217.0" cy="244.0" rx="18.0" ry="18.0" fill="rgb(0,25,0)"/><ellipse cx="46.0" cy="237.0" rx="23.0" ry="23.0" fill="rgb(0,14,0)"/><ellipse cx="23.0" cy="189.0" rx="15.0" ry="22.0" fill="rgb(0,24,0)"/><ellipse cx="57.0" cy="145.0" rx="10.0" ry="13.0" fill="rgb(0,24,0)"/><ellipse cx="133.0" cy="152.0" rx="14.0" ry="10.0" fill="rgb(0,32,0)"/><ellipse cx="333.0" cy="28.0" rx="13.0" ry="15.0" fill="rgb(0,44,0)"/><ellipse cx="375.0" cy="59.0" rx="19.0" ry="14.0" fill="rgb(0,22,0)"/><ellipse cx="407.0" cy="51.0" rx="15.0" ry="15.0" fill="rgb(0,19,0)"/><ellipse cx="330.0" cy="84.0" rx="15.0" ry="12.0" fill="rgb(0,32,0)"/><ellipse cx="395.0" cy="87.0" rx="20.0" ry="20.0" fill="rgb(0,22,0)"/><ellipse cx="382.0" cy="108.0" rx="11.0" ry="15.0" fill="rgb(0,100,0)"/><ellipse cx="450.0" cy="108.0" rx="17.0" ry="15.0" fill="rgb(0,32,0)"/><ellipse cx="481.0" cy="91.0" rx="11.0" ry="5.0" fill="rgb(0,38,0)"/><ellipse cx="475.0" cy="131.0" rx="23.0" ry="23.0" fill="rgb(0,16,0)"/><ellipse cx="419.0" cy="138.0" rx="20.0" ry="20.0" fill="rgb(0,14,0)"/><ellipse cx="532.0" cy="127.0" rx="11.0" ry="11.0" fill="rgb(0,19,0)"/><ellipse cx="555.0" cy="164.0" rx="27.0" ry="22.0" fill="rgb(0,27,0)"/><ellipse cx="563.0" cy="153.0" rx="8.0" ry="5.0" fill="rgb(0,46,0)"/><ellipse cx="602.0" cy="201.0" rx="30.0" ry="30.0" fill="rgb(0,27,0)"/><ellipse cx="416.0" cy="172.0" rx="22.0" ry="22.0" fill="rgb(0,16,0)"/><ellipse cx="354.0" cy="179.0" rx="8.0" ry="10.0" fill="rgb(0,32,0)"/><ellipse cx="444.0" cy="178.0" rx="6.0" ry="3.0" fill="rgb(0,40,0)"/><ellipse cx="381.0" cy="207.0" rx="11.0" ry="11.0" fill="rgb(0,27,0)"/><ellipse cx="390.0" cy="229.0" rx="15.0" ry="8.0" fill="rgb(0,36,0)"/><ellipse cx="443.0" cy="217.0" rx="22.0" ry="22.0" fill="rgb(0,26,0)"/><ellipse cx="506.0" cy="224.0" rx="15.0" ry="19.0" fill="rgb(0,68,0)"/><ellipse cx="478.0" cy="248.0" rx="14.0" ry="8.0" fill="rgb(0,38,0)"/><ellipse cx="316.0" cy="232.0" rx="18.0" ry="18.0" fill="rgb(0,30,0)"/><ellipse cx="432.0" cy="23.0" rx="14.0" ry="8.0" fill="rgb(0,14,0)"/><ellipse cx="66.0" cy="292.0" rx="20.0" ry="20.0" fill="rgb(0,16,0)"/><ellipse cx="142.0" cy="293.0" rx="21.0" ry="21.0" fill="rgb(0,16,0)"/><ellipse cx="195.0" cy="316.0" rx="21.0" ry="17.0" fill="rgb(0,46,0)"/><ellipse cx="215.0" cy="265.0" rx="18.0" ry="11.0" fill="rgb(0,41,0)"/><ellipse cx="277.0" cy="273.0" rx="17.0" ry="8.0" fill="rgb(0,62,0)"/><ellipse cx="260.0" cy="318.0" rx="22.0" ry="22.0" fill="rgb(0,18,0)"/><ellipse cx="70.0" cy="353.0" rx="20.0" ry="20.0" fill="rgb(0,36,0)"/><ellipse cx="116.0" cy="384.0" rx="17.0" ry="17.0" fill="rgb(0,18,0)"/><ellipse cx="170.0" cy="352.0" rx="23.0" ry="23.0" fill="rgb(0,18,0)"/><ellipse cx="217.0" cy="415.0" rx="16.0" ry="18.0" fill="rgb(0,30,0)"/><ellipse cx="278.0" cy="411.0" rx="20.0" ry="22.0" fill="rgb(0,33,0)"/><ellipse cx="283.0" cy="403.0" rx="10.0" ry="8.0" fill="rgb(0,49,0)"/><ellipse cx="155.0" cy="404.0" rx="18.0" ry="18.0" fill="rgb(0,12,0)"/><ellipse cx="124.0" cy="434.0" rx="17.0" ry="15.0" fill="rgb(0,30,0)"/><ellipse cx="51.0" cy="406.0" rx="11.0" ry="11.0" fill="rgb(0,16,0)"/><ellipse cx="74.0" cy="456.0" rx="23.0" ry="23.0" fill="rgb(0,16,0)"/><ellipse cx="170.0" cy="503.5" rx="9.0" ry="9.0" fill="rgb(0,35,0)"/><ellipse cx="14.0" cy="480.0" rx="10.0" ry="19.0" fill="rgb(0,30,0)"/><ellipse cx="255.0" cy="472.5" rx="23.0" ry="23.0" fill="rgb(0,14,0)"/><ellipse cx="178.0" cy="441.5" rx="18.0" ry="18.0" fill="rgb(0,14,0)"/><ellipse cx="302.0" cy="322.5" rx="12.0" ry="12.0" fill="rgb(0,22,0)"/><ellipse cx="302.0" cy="457.0" rx="8.0" ry="14.0" fill="rgb(0,26,0)"/><ellipse cx="131.5" cy="465.0" rx="15.0" ry="11.0" fill="rgb(0,18,0)"/><ellipse cx="12.0" cy="349.0" rx="15.0" ry="15.0" fill="rgb(0,18,0)"/><ellipse cx="88.0" cy="315.0" rx="11.0" ry="11.0" fill="rgb(0,46,0)"/><ellipse cx="124.0" cy="321.0" rx="11.0" ry="9.0" fill="rgb(0,54,0)"/><ellipse cx="199.5" cy="477.0" rx="14.0" ry="11.0" fill="rgb(0,56,0)"/><ellipse cx="337.0" cy="268.0" rx="8.0" ry="7.0" fill="rgb(0,76,0)"/><ellipse cx="545.0" cy="313.0" rx="23.0" ry="23.0" fill="rgb(0,20,0)"/><ellipse cx="486.0" cy="282.0" rx="27.0" ry="27.0" fill="rgb(0,14,0)"/><ellipse cx="404.0" cy="310.0" rx="26.0" ry="26.0" fill="rgb(0,14,0)"/><ellipse cx="570.0" cy="267.0" rx="46.0" ry="11.0" fill="rgb(0,24,0)"/><ellipse cx="396.0" cy="410.5" rx="17.0" ry="17.0" fill="rgb(0,22,0)"/><ellipse cx="475.0" cy="406.0" rx="16.0" ry="15.0" fill="rgb(0,41,0)"/><ellipse cx="497.0" cy="389.0" rx="17.0" ry="14.0" fill="rgb(0,30,0)"/><ellipse cx="507.5" cy="414.0" rx="12.0" ry="10.0" fill="rgb(0,38,0)"/><ellipse cx="354.5" cy="404.5" rx="20.0" ry="20.0" fill="rgb(0,16,0)"/><ellipse cx="331.0" cy="438.5" rx="23.0" ry="23.0" fill="rgb(0,18,0)"/><ellipse cx="377.5" cy="449.5" rx="18.0" ry="18.0" fill="rgb(0,16,0)"/><ellipse cx="435.0" cy="431.0" rx="16.0" ry="10.0" fill="rgb(0,18,0)"/><ellipse cx="416.0" cy="372.0" rx="26.0" ry="26.0" fill="rgb(0,12,0)"/><ellipse cx="470.5" cy="352.0" rx="12.0" ry="8.0" fill="rgb(0,14,0)"/><ellipse cx="346.5" cy="503.5" rx="15.0" ry="10.0" fill="rgb(0,18,0)"/></g>
<g filter="url(#cbrif)"><ellipse cx="42.0" cy="90.0" rx="13.0" ry="13.0" fill="none" stroke="rgb(0,60,0)" stroke-width="3.0"/><ellipse cx="57.0" cy="145.0" rx="10.0" ry="13.0" fill="none" stroke="rgb(0,100,0)" stroke-width="4.0"/><ellipse cx="23.0" cy="189.0" rx="15.0" ry="22.0" fill="none" stroke="rgb(0,110,0)" stroke-width="4.5"/><ellipse cx="229.0" cy="203.0" rx="17.0" ry="17.0" fill="none" stroke="rgb(0,36,0)" stroke-width="3.5"/><path d="M110.0,180.0 Q120.0,190.0 135.0,194.0" fill="none" stroke="rgb(0,44,0)" stroke-width="4.0" stroke-linecap="round" stroke-linejoin="round"/><ellipse cx="128.0" cy="232.0" rx="12.0" ry="4.0" fill="rgb(0,140,0)"/><ellipse cx="263.0" cy="125.0" rx="5.0" ry="4.0" fill="rgb(0,120,0)"/><ellipse cx="229.0" cy="85.0" rx="4.0" ry="4.0" fill="rgb(0,100,0)"/><ellipse cx="37.0" cy="156.0" rx="4.0" ry="3.0" fill="rgb(0,115,0)"/><ellipse cx="330.0" cy="84.0" rx="15.0" ry="12.0" fill="none" stroke="rgb(0,110,0)" stroke-width="4.5"/><ellipse cx="340.0" cy="133.0" rx="10.0" ry="8.0" fill="none" stroke="rgb(0,72,0)" stroke-width="3.5"/><ellipse cx="450.0" cy="108.0" rx="16.0" ry="14.0" fill="none" stroke="rgb(0,56,0)" stroke-width="3.0"/><ellipse cx="526.0" cy="167.0" rx="3.0" ry="8.0" fill="rgb(0,100,0)"/><path d="M585.0,178.0 Q602.0,170.0 616.0,172.0" fill="none" stroke="rgb(0,60,0)" stroke-width="4.0" stroke-linecap="round" stroke-linejoin="round"/><ellipse cx="503.0" cy="227.0" rx="6.0" ry="8.0" fill="rgb(0,160,0)"/><ellipse cx="373.0" cy="122.0" rx="4.0" ry="4.0" fill="rgb(0,150,0)"/><ellipse cx="463.0" cy="97.0" rx="5.0" ry="4.0" fill="rgb(0,100,0)"/><ellipse cx="96.0" cy="301.0" rx="14.0" ry="12.0" fill="rgb(0,125,0)"/><ellipse cx="34.0" cy="305.0" rx="8.5" ry="9.5" fill="none" stroke="rgb(0,110,0)" stroke-width="3.5"/><ellipse cx="70.0" cy="353.0" rx="19.0" ry="19.0" fill="none" stroke="rgb(0,72,0)" stroke-width="3.0"/><ellipse cx="108.0" cy="347.0" rx="12.0" ry="9.0" fill="none" stroke="rgb(0,180,0)" stroke-width="3.5"/><ellipse cx="127.0" cy="352.0" rx="9.0" ry="9.0" fill="none" stroke="rgb(0,170,0)" stroke-width="3.5"/><ellipse cx="199.5" cy="477.0" rx="13.0" ry="10.0" fill="none" stroke="rgb(0,150,0)" stroke-width="3.5"/><ellipse cx="29.0" cy="284.0" rx="4.0" ry="4.5" fill="rgb(0,120,0)"/><ellipse cx="436.0" cy="288.5" rx="15.5" ry="17.5" fill="none" stroke="rgb(0,130,0)" stroke-width="3.0"/><ellipse cx="495.0" cy="330.0" rx="21.0" ry="16.0" fill="none" stroke="rgb(0,110,0)" stroke-width="2.5"/><ellipse cx="349.0" cy="480.0" rx="7.5" ry="8.5" fill="none" stroke="rgb(0,130,0)" stroke-width="3.0"/><ellipse cx="368.0" cy="482.0" rx="5.0" ry="8.0" fill="none" stroke="rgb(0,64,0)" stroke-width="3.0"/></g>
<g filter="url(#cbrif)"><ellipse cx="50.0" cy="90.0" rx="10.0" ry="3.0" fill="rgb(24,255,24)" transform="rotate(-20 50.0 90.0)"/><ellipse cx="43.0" cy="100.0" rx="8.0" ry="3.0" fill="rgb(0,180,0)"/><ellipse cx="17.0" cy="210.0" rx="11.0" ry="6.0" fill="rgb(24,255,24)"/><ellipse cx="124.0" cy="152.0" rx="5.0" ry="8.0" fill="rgb(24,255,24)"/><path d="M124.0,158.0 Q131.0,161.0 140.0,158.0" fill="none" stroke="rgb(3,220,3)" stroke-width="3.5" stroke-linecap="round" stroke-linejoin="round"/><ellipse cx="145.0" cy="150.0" rx="3.0" ry="7.0" fill="rgb(0,200,0)"/><ellipse cx="159.0" cy="147.0" rx="4.0" ry="4.0" fill="rgb(24,255,24)"/><ellipse cx="251.0" cy="37.0" rx="6.0" ry="7.0" fill="rgb(24,255,24)"/><path d="M246.0,44.0 Q250.0,32.0 262.0,29.0" fill="none" stroke="rgb(9,230,9)" stroke-width="4.0" stroke-linecap="round" stroke-linejoin="round"/><ellipse cx="266.0" cy="31.0" rx="5.0" ry="4.0" fill="rgb(0,180,0)"/><path d="M269.0,62.0 Q276.0,57.0 286.0,56.0" fill="none" stroke="rgb(0,200,0)" stroke-width="3.0" stroke-linecap="round" stroke-linejoin="round"/><ellipse cx="255.0" cy="76.0" rx="4.0" ry="2.5" fill="rgb(9,230,9)"/><ellipse cx="234.0" cy="99.0" rx="3.0" ry="7.0" fill="rgb(9,230,9)"/><path d="M286.0,212.0 Q296.0,209.0 308.0,215.0" fill="none" stroke="rgb(0,180,0)" stroke-width="3.5" stroke-linecap="round" stroke-linejoin="round"/><ellipse cx="299.0" cy="229.0" rx="5.0" ry="3.0" fill="rgb(24,255,24)"/><ellipse cx="33.0" cy="248.0" rx="4.0" ry="4.0" fill="none" stroke="rgb(0,200,0)" stroke-width="3.0"/><path d="M385.0,73.0 Q401.0,74.0 413.0,84.0" fill="none" stroke="rgb(12,235,12)" stroke-width="4.5" stroke-linecap="round" stroke-linejoin="round"/><ellipse cx="388.0" cy="108.0" rx="5.5" ry="5.5" fill="none" stroke="rgb(0,200,0)" stroke-width="3.0"/><ellipse cx="379.0" cy="97.0" rx="3.0" ry="5.0" fill="rgb(0,200,0)"/><ellipse cx="448.0" cy="121.0" rx="5.0" ry="3.0" fill="rgb(24,255,24)"/><ellipse cx="582.0" cy="175.0" rx="5.0" ry="6.0" fill="rgb(24,255,24)"/><ellipse cx="388.0" cy="212.0" rx="4.0" ry="7.0" fill="rgb(9,230,9)"/><ellipse cx="91.0" cy="298.5" rx="7.0" ry="5.5" fill="rgb(24,255,24)"/><ellipse cx="107.0" cy="357.0" rx="8.0" ry="3.0" fill="rgb(3,220,3)"/><ellipse cx="97.0" cy="369.0" rx="9.0" ry="4.5" fill="rgb(9,230,9)" transform="rotate(-45 97.0 369.0)"/><ellipse cx="87.0" cy="380.0" rx="5.0" ry="5.0" fill="none" stroke="rgb(0,200,0)" stroke-width="3.0"/><ellipse cx="137.0" cy="377.0" rx="3.0" ry="5.0" fill="rgb(24,255,24)"/><ellipse cx="60.0" cy="317.0" rx="4.0" ry="2.0" fill="rgb(0,180,0)"/><ellipse cx="340.5" cy="272.0" rx="3.0" ry="3.0" fill="rgb(0,180,0)"/><ellipse cx="354.0" cy="297.0" rx="13.0" ry="10.0" fill="rgb(0,215,0)"/><ellipse cx="356.0" cy="291.5" rx="6.0" ry="5.0" fill="rgb(24,255,24)"/><ellipse cx="434.0" cy="273.0" rx="6.0" ry="3.0" fill="rgb(24,255,24)"/><ellipse cx="447.0" cy="290.0" rx="4.5" ry="11.0" fill="rgb(0,200,0)"/><ellipse cx="343.5" cy="336.5" rx="12.0" ry="16.0" fill="none" stroke="rgb(0,205,0)" stroke-width="5.0"/><ellipse cx="334.0" cy="349.0" rx="5.0" ry="4.0" fill="rgb(12,235,12)"/><ellipse cx="353.0" cy="329.0" rx="4.0" ry="5.0" fill="rgb(6,225,6)"/><ellipse cx="499.0" cy="421.0" rx="5.0" ry="3.5" fill="rgb(24,255,24)"/><ellipse cx="515.0" cy="417.0" rx="4.0" ry="8.0" fill="rgb(15,240,15)"/><ellipse cx="515.0" cy="422.5" rx="6.0" ry="3.0" fill="rgb(24,255,24)"/><ellipse cx="327.0" cy="487.0" rx="12.5" ry="13.5" fill="none" stroke="rgb(0,200,0)" stroke-width="4.0"/><path d="M318.0,478.0 Q314.0,488.0 319.0,498.0" fill="none" stroke="rgb(24,255,24)" stroke-width="4.0" stroke-linecap="round" stroke-linejoin="round"/></g>
<g filter="url(#g2)"><path d="M407,393.5 L424.5,411 L423.5,415.5 L402,426 L398.5,424.5 L398.5,409 Z" fill="rgb(20,255,20)" stroke="rgb(20,255,20)" stroke-width="2" stroke-linejoin="round"/><ellipse cx="213.5" cy="460.0" rx="14.5" ry="9.5" fill="none" stroke="rgb(24,255,24)" stroke-width="6.5" transform="rotate(20 213.5 460.0)"/><ellipse cx="213.5" cy="460.0" rx="11.0" ry="6.0" fill="rgb(0,60,0)" transform="rotate(20 213.5 460.0)"/><ellipse cx="354.0" cy="296.0" rx="9.0" ry="7.0" fill="rgb(12,235,12)"/><ellipse cx="91.0" cy="298.5" rx="6.0" ry="5.0" fill="rgb(24,255,24)"/></g>
<g filter="url(#g1)"><ellipse cx="407.0" cy="410.5" rx="4.2" ry="5.0" fill="rgb(0,56,0)"/></g>
<g filter="url(#g1)"><ellipse cx="94.0" cy="248.0" rx="3.0" ry="2.5" fill="rgb(24,255,24)"/><ellipse cx="114.0" cy="34.0" rx="2.0" ry="2.0" fill="rgb(0,64,0)"/><ellipse cx="282.0" cy="171.0" rx="2.0" ry="2.0" fill="rgb(0,120,0)"/><ellipse cx="297.0" cy="159.0" rx="2.0" ry="2.0" fill="rgb(0,64,0)"/><ellipse cx="451.0" cy="19.0" rx="4.0" ry="3.6" fill="rgb(24,255,24)"/><ellipse cx="395.0" cy="206.0" rx="2.0" ry="2.0" fill="rgb(0,150,0)"/><ellipse cx="498.0" cy="246.0" rx="3.0" ry="3.5" fill="rgb(24,255,24)"/><ellipse cx="583.0" cy="244.0" rx="3.0" ry="2.5" fill="rgb(0,160,0)"/><ellipse cx="308.0" cy="215.0" rx="3.0" ry="3.0" fill="rgb(0,180,0)"/><ellipse cx="15.0" cy="428.0" rx="3.0" ry="3.0" fill="rgb(0,72,0)"/><ellipse cx="26.0" cy="418.0" rx="2.0" ry="2.0" fill="rgb(0,56,0)"/><ellipse cx="36.0" cy="425.0" rx="2.0" ry="2.0" fill="rgb(0,64,0)"/><ellipse cx="261.0" cy="349.5" rx="2.0" ry="2.0" fill="rgb(0,150,0)"/><ellipse cx="273.0" cy="353.5" rx="2.0" ry="2.0" fill="rgb(0,100,0)"/><ellipse cx="536.0" cy="323.0" rx="2.0" ry="2.0" fill="rgb(0,110,0)"/><ellipse cx="526.0" cy="327.0" rx="2.0" ry="2.0" fill="rgb(0,64,0)"/><ellipse cx="329.5" cy="415.0" rx="2.0" ry="2.0" fill="rgb(0,150,0)"/></g>
</g></g>
<rect x="1547.3" y="543.9" width="110.8" height="5.8" fill="#fff"/>
<rect x="2173.9" y="544.6" width="110.6" height="5.9" fill="#fff"/>
<line x1="162.2" y1="701.3" x2="162.2" y2="1135.0" stroke="#000" stroke-width="4.6" stroke-linecap="butt"/>
<line x1="145.0" y1="1132.6" x2="451.5" y2="1132.6" stroke="#000" stroke-width="5" stroke-linecap="butt"/>
<line x1="145.0" y1="703.6" x2="162.2" y2="703.6" stroke="#000" stroke-width="4.6" stroke-linecap="butt"/>
<line x1="145.0" y1="811.1" x2="162.2" y2="811.1" stroke="#000" stroke-width="4.6" stroke-linecap="butt"/>
<line x1="145.0" y1="918.1" x2="162.2" y2="918.1" stroke="#000" stroke-width="4.6" stroke-linecap="butt"/>
<line x1="145.0" y1="1024.8" x2="162.2" y2="1024.8" stroke="#000" stroke-width="4.6" stroke-linecap="butt"/>
<text x="91.0" y="716.4" font-size="35" textLength="37.5" lengthAdjust="spacingAndGlyphs">80</text>
<text x="91.0" y="823.9" font-size="35" textLength="37.5" lengthAdjust="spacingAndGlyphs">60</text>
<text x="91.0" y="930.9" font-size="35" textLength="37.5" lengthAdjust="spacingAndGlyphs">40</text>
<text x="91.0" y="1037.6" font-size="35" textLength="37.5" lengthAdjust="spacingAndGlyphs">20</text>
<text x="109.2" y="1144.9" font-size="35" textLength="19.0" lengthAdjust="spacingAndGlyphs">0</text>
<rect x="217.5" y="832.7" width="70.8" height="299.9" fill="#0000ff"/>
<line x1="253.4" y1="834.0" x2="253.4" y2="812.0" stroke="#0000ff" stroke-width="3.8" stroke-linecap="butt"/>
<line x1="237.9" y1="812.0" x2="268.9" y2="812.0" stroke="#0000ff" stroke-width="4.2" stroke-linecap="round"/>
<rect x="344.0" y="999.7" width="70.9" height="132.9" fill="#ff6600"/>
<line x1="378.7" y1="1001.0" x2="378.7" y2="991.6" stroke="#ff6600" stroke-width="4.5" stroke-linecap="butt"/>
<line x1="363.2" y1="991.6" x2="394.2" y2="991.6" stroke="#ff6600" stroke-width="5" stroke-linecap="round"/>
<text x="243.3" y="1073.6" font-size="35" textLength="19.5" lengthAdjust="spacingAndGlyphs" fill="#fff">4</text>
<text x="368.7" y="1073.6" font-size="35" textLength="19.0" lengthAdjust="spacingAndGlyphs" fill="#fff">3</text>
<text x="370.4" y="913.6" font-size="35" textLength="19.0" lengthAdjust="spacingAndGlyphs">b</text>
<text x="223.8" y="1182.3" font-size="35" textLength="51.0" lengthAdjust="spacingAndGlyphs">WT</text>
<text x="346.6" y="1182.3" font-size="35" textLength="65.0" lengthAdjust="spacingAndGlyphs">CKO</text>
<text x="70.6" y="1077.5" font-size="35" textLength="319.5" lengthAdjust="spacingAndGlyphs" transform="rotate(-90 70.6 1077.5)">ETAR + neurons (%)</text>
<line x1="643.5" y1="699.1" x2="643.5" y2="1135.0" stroke="#000" stroke-width="4.6" stroke-linecap="butt"/>
<line x1="626.2" y1="1132.6" x2="935.1" y2="1132.6" stroke="#000" stroke-width="5" stroke-linecap="butt"/>
<line x1="626.2" y1="701.4" x2="643.5" y2="701.4" stroke="#000" stroke-width="4.6" stroke-linecap="butt"/>
<line x1="626.2" y1="808.9" x2="643.5" y2="808.9" stroke="#000" stroke-width="4.6" stroke-linecap="butt"/>
<line x1="626.2" y1="916.9" x2="643.5" y2="916.9" stroke="#000" stroke-width="4.6" stroke-linecap="butt"/>
<line x1="626.2" y1="1024.6" x2="643.5" y2="1024.6" stroke="#000" stroke-width="4.6" stroke-linecap="butt"/>
<text x="571.5" y="710.2" font-size="35" textLength="37.5" lengthAdjust="spacingAndGlyphs">12</text>
<text x="588.8" y="821.5" font-size="35" textLength="19.0" lengthAdjust="spacingAndGlyphs">9</text>
<text x="588.8" y="929.5" font-size="35" textLength="19.0" lengthAdjust="spacingAndGlyphs">6</text>
<text x="588.8" y="1037.2" font-size="35" textLength="19.0" lengthAdjust="spacingAndGlyphs">3</text>
<text x="588.8" y="1147.4" font-size="35" textLength="19.0" lengthAdjust="spacingAndGlyphs">0</text>
<rect x="699.8" y="781.3" width="70.8" height="351.3" fill="#0000ff"/>
<line x1="735.8" y1="783.0" x2="735.8" y2="773.2" stroke="#0000ff" stroke-width="3.8" stroke-linecap="butt"/>
<line x1="720.3" y1="773.2" x2="751.3" y2="773.2" stroke="#0000ff" stroke-width="4.2" stroke-linecap="round"/>
<rect x="826.6" y="752.9" width="72.1" height="379.7" fill="#ff6600"/>
<line x1="861.8" y1="754.0" x2="861.8" y2="740.0" stroke="#ff6600" stroke-width="4.5" stroke-linecap="butt"/>
<line x1="846.3" y1="740.0" x2="877.3" y2="740.0" stroke="#ff6600" stroke-width="5" stroke-linecap="round"/>
<text x="713.4" y="977.1" font-size="35" textLength="38.5" lengthAdjust="spacingAndGlyphs" fill="#fff">20</text>
<text x="841.5" y="977.1" font-size="35" textLength="37.0" lengthAdjust="spacingAndGlyphs" fill="#fff">10</text>
<text x="706.3" y="1182.3" font-size="35" textLength="51.0" lengthAdjust="spacingAndGlyphs">WT</text>
<text x="833.4" y="1182.3" font-size="35" textLength="65.0" lengthAdjust="spacingAndGlyphs">CKO</text>
<text x="550.0" y="1073.0" font-size="35" textLength="314.5" lengthAdjust="spacingAndGlyphs" transform="rotate(-90 550.0 1073.0)">Response latency (s)</text>
<line x1="1150.1" y1="702.9" x2="1150.1" y2="1135.0" stroke="#000" stroke-width="4.6" stroke-linecap="butt"/>
<line x1="1132.8" y1="1132.6" x2="1438.4" y2="1132.6" stroke="#000" stroke-width="5" stroke-linecap="butt"/>
<line x1="1132.8" y1="705.2" x2="1150.1" y2="705.2" stroke="#000" stroke-width="4.6" stroke-linecap="butt"/>
<line x1="1132.8" y1="790.7" x2="1150.1" y2="790.7" stroke="#000" stroke-width="4.6" stroke-linecap="butt"/>
<line x1="1132.8" y1="876.2" x2="1150.1" y2="876.2" stroke="#000" stroke-width="4.6" stroke-linecap="butt"/>
<line x1="1132.8" y1="961.6" x2="1150.1" y2="961.6" stroke="#000" stroke-width="4.6" stroke-linecap="butt"/>
<line x1="1132.8" y1="1047.1" x2="1150.1" y2="1047.1" stroke="#000" stroke-width="4.6" stroke-linecap="butt"/>
<text x="1069.5" y="716.6" font-size="35" textLength="46.0" lengthAdjust="spacingAndGlyphs">1.0</text>
<text x="1069.5" y="802.1" font-size="35" textLength="46.0" lengthAdjust="spacingAndGlyphs">0.8</text>
<text x="1069.5" y="887.6" font-size="35" textLength="46.0" lengthAdjust="spacingAndGlyphs">0.6</text>
<text x="1069.5" y="973.0" font-size="35" textLength="46.0" lengthAdjust="spacingAndGlyphs">0.4</text>
<text x="1069.5" y="1058.5" font-size="35" textLength="46.0" lengthAdjust="spacingAndGlyphs">0.2</text>
<text x="1069.5" y="1141.6" font-size="35" textLength="46.0" lengthAdjust="spacingAndGlyphs">0.0</text>
<rect x="1205.6" y="803.9" width="70.3" height="328.7" fill="#0000ff"/>
<line x1="1241.2" y1="805.0" x2="1241.2" y2="785.6" stroke="#0000ff" stroke-width="3.8" stroke-linecap="butt"/>
<line x1="1225.7" y1="785.6" x2="1256.7" y2="785.6" stroke="#0000ff" stroke-width="4.2" stroke-linecap="round"/>
<rect x="1331.2" y="801.1" width="71.5" height="331.5" fill="#ff6600"/>
<line x1="1366.0" y1="802.0" x2="1366.0" y2="776.3" stroke="#ff6600" stroke-width="4.8" stroke-linecap="butt"/>
<line x1="1350.2" y1="776.3" x2="1381.8" y2="776.3" stroke="#ff6600" stroke-width="5.2" stroke-linecap="round"/>
<text x="1220.2" y="977.1" font-size="35" textLength="38.5" lengthAdjust="spacingAndGlyphs" fill="#fff">20</text>
<text x="1351.2" y="977.1" font-size="35" textLength="37.0" lengthAdjust="spacingAndGlyphs" fill="#fff">10</text>
<text x="1211.4" y="1182.3" font-size="35" textLength="51.0" lengthAdjust="spacingAndGlyphs">WT</text>
<text x="1334.7" y="1182.3" font-size="35" textLength="65.0" lengthAdjust="spacingAndGlyphs">CKO</text>
<text x="1049.7" y="1092.0" font-size="35" textLength="350.0" lengthAdjust="spacingAndGlyphs" transform="rotate(-90 1049.7 1092.0)">Response threshold (g)</text>
<line x1="1654.4" y1="701.6" x2="1654.4" y2="1135.0" stroke="#000" stroke-width="4.6" stroke-linecap="butt"/>
<line x1="1637.6" y1="1132.6" x2="2300.4" y2="1132.6" stroke="#000" stroke-width="5" stroke-linecap="butt"/>
<line x1="1637.6" y1="703.9" x2="1654.4" y2="703.9" stroke="#000" stroke-width="4.6" stroke-linecap="butt"/>
<line x1="1637.6" y1="789.6" x2="1654.4" y2="789.6" stroke="#000" stroke-width="4.6" stroke-linecap="butt"/>
<line x1="1637.6" y1="875.4" x2="1654.4" y2="875.4" stroke="#000" stroke-width="4.6" stroke-linecap="butt"/>
<line x1="1637.6" y1="961.1" x2="1654.4" y2="961.1" stroke="#000" stroke-width="4.6" stroke-linecap="butt"/>
<line x1="1637.6" y1="1046.9" x2="1654.4" y2="1046.9" stroke="#000" stroke-width="4.6" stroke-linecap="butt"/>
<text x="1562.6" y="716.5" font-size="35" textLength="55.5" lengthAdjust="spacingAndGlyphs">100</text>
<text x="1580.5" y="802.2" font-size="35" textLength="37.5" lengthAdjust="spacingAndGlyphs">80</text>
<text x="1580.5" y="888.0" font-size="35" textLength="37.5" lengthAdjust="spacingAndGlyphs">60</text>
<text x="1580.5" y="973.7" font-size="35" textLength="37.5" lengthAdjust="spacingAndGlyphs">40</text>
<text x="1580.5" y="1059.5" font-size="35" textLength="37.5" lengthAdjust="spacingAndGlyphs">20</text>
<text x="1599.5" y="1141.4" font-size="35" textLength="19.0" lengthAdjust="spacingAndGlyphs">0</text>
<line x1="1735.6" y1="1133.0" x2="1735.6" y2="1144.8" stroke="#000" stroke-width="4.6" stroke-linecap="butt"/>
<line x1="1856.1" y1="1133.0" x2="1856.1" y2="1144.8" stroke="#000" stroke-width="4.6" stroke-linecap="butt"/>
<line x1="1976.8" y1="1133.0" x2="1976.8" y2="1144.8" stroke="#000" stroke-width="4.6" stroke-linecap="butt"/>
<line x1="2097.6" y1="1133.0" x2="2097.6" y2="1144.8" stroke="#000" stroke-width="4.6" stroke-linecap="butt"/>
<line x1="2218.3" y1="1133.0" x2="2218.3" y2="1144.8" stroke="#000" stroke-width="4.6" stroke-linecap="butt"/>
<text x="1704.2" y="1189.3" font-size="35" textLength="67.0" lengthAdjust="spacingAndGlyphs">0.07</text>
<text x="1835.2" y="1189.3" font-size="35" textLength="67.0" lengthAdjust="spacingAndGlyphs">0.16</text>
<text x="1943.3" y="1189.3" font-size="35" textLength="67.0" lengthAdjust="spacingAndGlyphs">0.40</text>
<text x="2062.6" y="1189.3" font-size="35" textLength="67.0" lengthAdjust="spacingAndGlyphs">0.60</text>
<text x="2183.4" y="1189.3" font-size="35" textLength="67.0" lengthAdjust="spacingAndGlyphs">1.00</text>
<text x="1870.5" y="1237.8" font-size="35" textLength="269.0" lengthAdjust="spacingAndGlyphs">Filament force (g)</text>
<text x="1544.0" y="1103.2" font-size="35" textLength="372.5" lengthAdjust="spacingAndGlyphs" transform="rotate(-90 1544.0 1103.2)">Response frequency (%)</text>
<line x1="1856.1" y1="1015.5" x2="1856.1" y2="1045.4" stroke="#ff6600" stroke-width="4.2" stroke-linecap="butt"/>
<line x1="1847.9" y1="1045.4" x2="1864.3" y2="1045.4" stroke="#ff6600" stroke-width="4.2" stroke-linecap="round"/>
<line x1="1976.8" y1="957.0" x2="1976.8" y2="995.2" stroke="#ff6600" stroke-width="4.2" stroke-linecap="butt"/>
<line x1="1968.6" y1="995.2" x2="1985.0" y2="995.2" stroke="#ff6600" stroke-width="4.2" stroke-linecap="round"/>
<line x1="2097.6" y1="841.5" x2="2097.6" y2="874.2" stroke="#ff6600" stroke-width="4.2" stroke-linecap="butt"/>
<line x1="2089.4" y1="874.2" x2="2105.8" y2="874.2" stroke="#ff6600" stroke-width="4.2" stroke-linecap="round"/>
<line x1="2218.3" y1="749.5" x2="2218.3" y2="774.3" stroke="#ff6600" stroke-width="4.2" stroke-linecap="butt"/>
<line x1="2210.1" y1="774.3" x2="2226.5" y2="774.3" stroke="#ff6600" stroke-width="4.2" stroke-linecap="round"/>
<polyline points="1735.6,1117.5 1856.1,1015.5 1976.8,957.0 2097.6,841.5 2218.3,749.5" fill="none" stroke="#ff6600" stroke-width="4.6" stroke-linejoin="round"/>
<rect x="1727.0" y="1108.9" width="17.2" height="17.2" fill="none" stroke="#ff6600" stroke-width="4.2"/>
<rect x="1847.5" y="1006.9" width="17.2" height="17.2" fill="none" stroke="#ff6600" stroke-width="4.2"/>
<rect x="1968.2" y="948.4" width="17.2" height="17.2" fill="none" stroke="#ff6600" stroke-width="4.2"/>
<rect x="2089.0" y="832.9" width="17.2" height="17.2" fill="none" stroke="#ff6600" stroke-width="4.2"/>
<rect x="2209.7" y="740.9" width="17.2" height="17.2" fill="none" stroke="#ff6600" stroke-width="4.2"/>
<polyline points="1735.6,1128.8 1856.1,1017.8 1976.8,955.8 2097.6,839.6 2218.3,747.9" fill="none" stroke="#000" stroke-width="4.2" stroke-dasharray="10 6.5" stroke-linejoin="round"/>
<line x1="1856.1" y1="1009.8" x2="1856.1" y2="1004.2" stroke="#0000ff" stroke-width="4" stroke-linecap="butt"/>
<line x1="1847.9" y1="1004.2" x2="1864.3" y2="1004.2" stroke="#0000ff" stroke-width="4" stroke-linecap="round"/>
<line x1="1976.8" y1="947.8" x2="1976.8" y2="932.6" stroke="#0000ff" stroke-width="4" stroke-linecap="butt"/>
<line x1="1968.6" y1="932.6" x2="1985.0" y2="932.6" stroke="#0000ff" stroke-width="4" stroke-linecap="round"/>
<line x1="2097.6" y1="831.6" x2="2097.6" y2="819.6" stroke="#0000ff" stroke-width="4" stroke-linecap="butt"/>
<line x1="2089.4" y1="819.6" x2="2105.8" y2="819.6" stroke="#0000ff" stroke-width="4" stroke-linecap="round"/>
<line x1="2218.3" y1="739.9" x2="2218.3" y2="733.4" stroke="#0000ff" stroke-width="4" stroke-linecap="butt"/>
<line x1="2210.1" y1="733.4" x2="2226.5" y2="733.4" stroke="#0000ff" stroke-width="4" stroke-linecap="round"/>
<circle cx="1735.6" cy="1128.8" r="8" fill="none" stroke="#0000ff" stroke-width="4"/>
<circle cx="1735.6" cy="1128.8" r="3" fill="#b00020" opacity="0.75"/>
<circle cx="1856.1" cy="1017.8" r="8" fill="none" stroke="#0000ff" stroke-width="4"/>
<circle cx="1856.1" cy="1017.8" r="3" fill="#b00020" opacity="0.75"/>
<circle cx="1976.8" cy="955.8" r="8" fill="none" stroke="#0000ff" stroke-width="4"/>
<circle cx="1976.8" cy="955.8" r="3" fill="#b00020" opacity="0.75"/>
<circle cx="2097.6" cy="839.6" r="8" fill="none" stroke="#0000ff" stroke-width="4"/>
<circle cx="2097.6" cy="839.6" r="3" fill="#b00020" opacity="0.75"/>
<circle cx="2218.3" cy="747.9" r="8" fill="none" stroke="#0000ff" stroke-width="4"/>
<circle cx="2218.3" cy="747.9" r="3" fill="#b00020" opacity="0.75"/>
<line x1="1677.5" y1="692.6" x2="1689.0" y2="692.6" stroke="#000" stroke-width="4.2" stroke-linecap="round"/>
<line x1="1697.0" y1="692.6" x2="1710.0" y2="692.6" stroke="#000" stroke-width="4.2" stroke-linecap="butt"/>
<line x1="1726.5" y1="692.6" x2="1730.5" y2="692.6" stroke="#000" stroke-width="4.2" stroke-linecap="round"/>
<circle cx="1703.6" cy="692.4" r="9.8" fill="none" stroke="#0000ff" stroke-width="4.6"/>
<text x="1741.0" y="705.7" font-size="35" textLength="78.0" lengthAdjust="spacingAndGlyphs">WT (</text>
<text x="1819.5" y="705.7" font-size="35" textLength="18.0" lengthAdjust="spacingAndGlyphs" font-style="italic">n</text>
<text x="1846.5" y="705.7" font-size="35" textLength="83.0" lengthAdjust="spacingAndGlyphs">= 20)</text>
<line x1="1678.0" y1="760.5" x2="1730.5" y2="760.5" stroke="#ff6600" stroke-width="5" stroke-linecap="round"/>
<rect x="1693.6" y="750.4" width="20" height="19.6" fill="none" stroke="#ff6600" stroke-width="5.2"/>
<text x="1739.8" y="773.8" font-size="35" textLength="91.5" lengthAdjust="spacingAndGlyphs">CKO (</text>
<text x="1832.5" y="773.8" font-size="35" textLength="18.0" lengthAdjust="spacingAndGlyphs" font-style="italic">n</text>
<text x="1859.5" y="773.8" font-size="35" textLength="83.0" lengthAdjust="spacingAndGlyphs">= 10)</text>
<line x1="189.2" y1="1502.2" x2="2086.4" y2="1502.2" stroke="#000" stroke-width="3.4" stroke-linecap="butt"/>
<line x1="193.2" y1="1500.5" x2="193.2" y2="1560.8" stroke="#000" stroke-width="7.4" stroke-linecap="butt"/>
<line x1="495.6" y1="1500.5" x2="495.6" y2="1560.8" stroke="#000" stroke-width="7.4" stroke-linecap="butt"/>
<line x1="812.1" y1="1500.5" x2="812.1" y2="1560.8" stroke="#000" stroke-width="7.4" stroke-linecap="butt"/>
<line x1="1129.0" y1="1500.5" x2="1129.0" y2="1560.8" stroke="#000" stroke-width="7.4" stroke-linecap="butt"/>
<line x1="1446.8" y1="1500.5" x2="1446.8" y2="1560.8" stroke="#000" stroke-width="7.4" stroke-linecap="butt"/>
<line x1="1765.1" y1="1500.5" x2="1765.1" y2="1560.8" stroke="#000" stroke-width="7.4" stroke-linecap="butt"/>
<line x1="2082.6" y1="1500.5" x2="2082.6" y2="1560.8" stroke="#000" stroke-width="7.4" stroke-linecap="butt"/>
<path d="M194.1,1400.6 L200.9,1400.6 L199.4,1447.5 L212.0,1439.6 Q202.2,1458.0 195.2,1472.0 Q188.2,1458.0 179.0,1439.0 L192.2,1447.5 Z" fill="#000"/>
<path d="M491.4,1408.6 L498.2,1408.6 L497.1,1456.7 L509.8,1448.8 Q500.0,1467.2 493.0,1481.2 Q486.0,1467.2 476.8,1448.2 L489.9,1456.7 Z" fill="#000"/>
<path d="M810.6,1408.6 L817.4,1408.6 L816.6,1456.7 L829.4,1448.8 Q819.6,1467.2 812.6,1481.2 Q805.6,1467.2 796.4,1448.2 L809.4,1456.7 Z" fill="#000"/>
<path d="M1125.2,1408.6 L1132.0,1408.6 L1131.2,1456.7 L1144.0,1448.8 Q1134.2,1467.2 1127.2,1481.2 Q1120.2,1467.2 1111.0,1448.2 L1124.0,1456.7 Z" fill="#000"/>
<path d="M1442.6,1408.6 L1449.4,1408.6 L1448.6,1456.7 L1461.4,1448.8 Q1451.6,1467.2 1444.6,1481.2 Q1437.6,1467.2 1428.4,1448.2 L1441.4,1456.7 Z" fill="#000"/>
<path d="M1763.7,1408.6 L1770.5,1408.6 L1769.3,1456.7 L1781.9,1448.8 Q1772.1,1467.2 1765.1,1481.2 Q1758.1,1467.2 1748.9,1448.2 L1762.1,1456.7 Z" fill="#000"/>
<path d="M2078.1,1408.6 L2084.9,1408.6 L2083.5,1456.7 L2096.1,1448.8 Q2086.3,1467.2 2079.3,1481.2 Q2072.3,1467.2 2063.1,1448.2 L2076.3,1456.7 Z" fill="#000"/>
<line x1="802.3" y1="1396.1" x2="1183.1" y2="1396.1" stroke="#000" stroke-width="3.6" stroke-linecap="butt"/>
<text x="120.0" y="1364.8" font-size="35" textLength="191.0" lengthAdjust="spacingAndGlyphs">Baseline test</text>
<text x="455.8" y="1364.8" font-size="35" textLength="84.0" lengthAdjust="spacingAndGlyphs">DBTC</text>
<text x="775.8" y="1364.8" font-size="35" textLength="84.0" lengthAdjust="spacingAndGlyphs">DBTC</text>
<text x="1065.5" y="1364.8" font-size="35" textLength="131.5" lengthAdjust="spacingAndGlyphs">Pain test</text>
<text x="1369.6" y="1316.2" font-size="35" textLength="154.5" lengthAdjust="spacingAndGlyphs">Open field</text>
<text x="1415.2" y="1364.8" font-size="35" textLength="64.5" lengthAdjust="spacingAndGlyphs">EPM</text>
<text x="1699.2" y="1364.8" font-size="35" textLength="118.5" lengthAdjust="spacingAndGlyphs">Rotarod</text>
<text x="1959.7" y="1316.2" font-size="35" textLength="239.0" lengthAdjust="spacingAndGlyphs">Histological test</text>
<text x="1959.5" y="1364.8" font-size="35" textLength="242.0" lengthAdjust="spacingAndGlyphs">calcium imaging</text>
<text x="144.7" y="1606.1" font-size="35" textLength="90.0" lengthAdjust="spacingAndGlyphs">Day 0</text>
<text x="458.1" y="1606.1" font-size="35" textLength="88.0" lengthAdjust="spacingAndGlyphs">Day 1</text>
<text x="771.5" y="1606.1" font-size="35" textLength="89.0" lengthAdjust="spacingAndGlyphs">Day 8</text>
<text x="1084.1" y="1606.1" font-size="35" textLength="108.0" lengthAdjust="spacingAndGlyphs">Day 28</text>
<text x="1392.4" y="1606.1" font-size="35" textLength="107.5" lengthAdjust="spacingAndGlyphs">Day 29</text>
<text x="1710.1" y="1606.1" font-size="35" textLength="107.5" lengthAdjust="spacingAndGlyphs">Day 30</text>
<text x="2029.3" y="1606.1" font-size="35" textLength="106.0" lengthAdjust="spacingAndGlyphs">Day 31</text>
<line x1="175.0" y1="1742.2" x2="175.0" y2="2129.8" stroke="#000" stroke-width="4.4" stroke-linecap="butt"/>
<line x1="163.0" y1="1744.3" x2="175.0" y2="1744.3" stroke="#000" stroke-width="4.2" stroke-linecap="round"/>
<line x1="163.0" y1="1821.0" x2="175.0" y2="1821.0" stroke="#000" stroke-width="4.2" stroke-linecap="round"/>
<line x1="163.0" y1="1974.3" x2="175.0" y2="1974.3" stroke="#000" stroke-width="4.2" stroke-linecap="round"/>
<line x1="163.0" y1="2050.9" x2="175.0" y2="2050.9" stroke="#000" stroke-width="4.2" stroke-linecap="round"/>
<line x1="163.0" y1="2127.6" x2="175.0" y2="2127.6" stroke="#000" stroke-width="4.2" stroke-linecap="round"/>
<line x1="163.0" y1="1897.6" x2="765.4" y2="1897.6" stroke="#000" stroke-width="4.2" stroke-linecap="round"/>
<text x="107.8" y="1753.9" font-size="35" textLength="36.0" lengthAdjust="spacingAndGlyphs">10</text>
<text x="125.4" y="1830.6" font-size="35" textLength="18.0" lengthAdjust="spacingAndGlyphs">5</text>
<text x="125.4" y="1907.2" font-size="35" textLength="18.0" lengthAdjust="spacingAndGlyphs">0</text>
<text x="113.5" y="1985.8" font-size="35" textLength="29.5" lengthAdjust="spacingAndGlyphs">-5</text>
<text x="95.5" y="2062.4" font-size="35" textLength="47.5" lengthAdjust="spacingAndGlyphs">-10</text>
<text x="95.5" y="2140.6" font-size="35" textLength="47.5" lengthAdjust="spacingAndGlyphs">-15</text>
<text x="74.1" y="2139.0" font-size="35" textLength="413.0" lengthAdjust="spacingAndGlyphs" transform="rotate(-90 74.1 2139.0)">Change in body weight (%)</text>
<text x="235.3" y="1699.0" font-size="34" textLength="461.0" lengthAdjust="spacingAndGlyphs">4 W after first DBTC treatment</text>
<path d="M207.5,1897.6 V1782.5 Q207.5,1780.7 209.5,1780.7 H336.8 Q338.8,1780.7 338.8,1782.5 V1897.6" fill="#fff" stroke="#000" stroke-width="3.8"/>
<line x1="272.8" y1="1780.7" x2="272.8" y2="1765.4" stroke="#000" stroke-width="3.8" stroke-linecap="butt"/>
<line x1="236.5" y1="1765.4" x2="309.5" y2="1765.4" stroke="#000" stroke-width="3.8" stroke-linecap="round"/>
<text x="244.5" y="1860.2" font-size="51" textLength="58.2" lengthAdjust="spacingAndGlyphs" fill="#000">10</text>
<path d="M402.9,1897.6 H535.8 V2070.7 Q535.8,2073.7 532.8,2073.7 H405.9 Q402.9,2073.7 402.9,2070.7 Z" fill="#000"/>
<line x1="469.0" y1="2073.0" x2="469.0" y2="2098.8" stroke="#000" stroke-width="3.8" stroke-linecap="butt"/>
<line x1="431.0" y1="2098.8" x2="507.0" y2="2098.8" stroke="#000" stroke-width="3.8" stroke-linecap="round"/>
<text x="434.6" y="2013.9" font-size="51" textLength="58.2" lengthAdjust="spacingAndGlyphs" fill="#fff">10</text>
<path d="M597.8,1899.1 H733.1 V2058 Q733.1,2061 730.1,2061 H600.8 Q597.8,2061 597.8,2058 Z" fill="#ff6600"/>
<line x1="666.5" y1="2060.0" x2="666.5" y2="2071.8" stroke="#ff6600" stroke-width="4" stroke-linecap="butt"/>
<line x1="628.5" y1="2071.8" x2="701.5" y2="2071.8" stroke="#ff6600" stroke-width="4" stroke-linecap="round"/>
<text x="630.8" y="2012.0" font-size="51" textLength="58.5" lengthAdjust="spacingAndGlyphs" fill="#fff">10</text>
<text x="462.0" y="2134.4" font-size="35" textLength="17.0" lengthAdjust="spacingAndGlyphs">c</text>
<text x="649.4" y="2134.4" font-size="35" textLength="17.0" lengthAdjust="spacingAndGlyphs">c</text>
<rect x="403.4" y="1738.1" width="32.2" height="23.4" rx="3" fill="#fff" stroke="#000" stroke-width="3.6"/>
<rect x="401.6" y="1784.8" width="35.8" height="27.7" rx="3.5" fill="#000"/>
<rect x="401.6" y="1834.1" width="35.8" height="28.3" rx="3.5" fill="#ff6600"/>
<text x="445.6" y="1761.0" font-size="35" textLength="164.5" lengthAdjust="spacingAndGlyphs">WT-vehicle</text>
<text x="445.6" y="1810.4" font-size="35" textLength="145.0" lengthAdjust="spacingAndGlyphs">WT-DBTC</text>
<text x="445.4" y="1858.9" font-size="35" textLength="160.5" lengthAdjust="spacingAndGlyphs">CKO-DBTC</text>
</g>
</svg>
</body></html>
